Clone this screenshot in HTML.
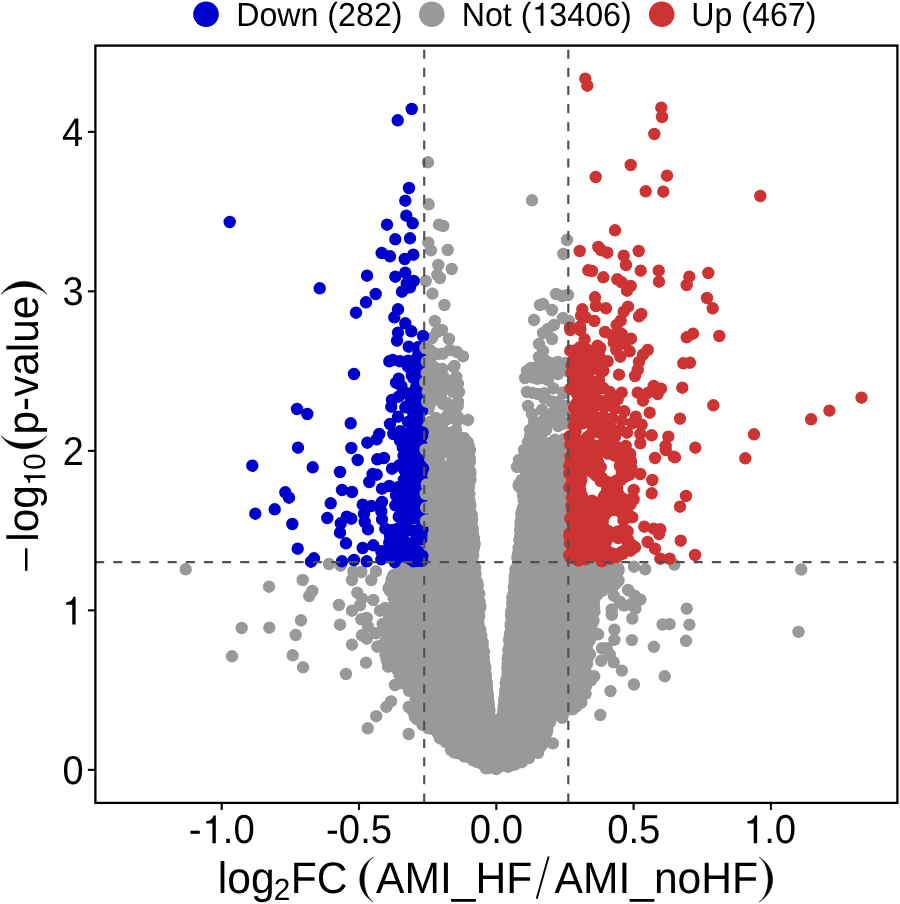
<!DOCTYPE html>
<html>
<head>
<meta charset="utf-8">
<title>Volcano plot</title>
<style>
html,body{margin:0;padding:0;background:#fff;}
body{width:900px;height:904px;overflow:hidden;}
svg{display:block;will-change:transform;}
text{font-family:"Liberation Sans",sans-serif;fill:#000;text-rendering:geometricPrecision;}
.tk{font-size:37.5px;}
.lg{font-size:31.3px;}
.ti{font-size:43px;}
</style>
</head>
<body>
<svg width="900" height="904" viewBox="0 0 900 904">
<rect x="0" y="0" width="900" height="904" fill="#fff"/>
<defs><clipPath id="pc"><rect x="95.4" y="45.6" width="802.0" height="757.3"/></clipPath></defs>
<g clip-path="url(#pc)">
<polygon points="424.2,470.0 424.2,474.0 424.2,478.0 424.2,482.0 424.2,486.0 424.2,490.0 424.2,494.0 424.2,498.0 424.2,502.0 424.2,506.0 424.2,510.0 424.2,514.0 424.2,518.0 424.2,522.0 424.2,526.0 424.2,530.0 424.2,534.0 424.2,538.0 424.2,542.0 424.2,546.0 424.2,550.0 424.2,554.0 424.2,558.0 424.2,562.0 405.0,566.0 401.3,570.0 396.0,574.0 391.6,578.0 390.2,582.0 388.7,586.0 389.2,590.0 391.5,594.0 393.8,598.0 394.8,602.0 394.4,606.0 394.0,610.0 393.0,614.0 390.1,618.0 387.2,622.0 385.7,626.0 385.7,630.0 385.7,634.0 384.0,638.0 381.8,642.0 379.6,646.0 382.0,650.0 386.0,654.0 388.6,658.0 389.7,662.0 391.9,666.0 394.4,670.0 399.5,674.0 403.5,678.0 401.5,682.0 401.5,686.0 407.5,690.0 412.3,694.0 413.4,698.0 412.8,702.0 410.2,706.0 410.2,710.0 412.8,714.0 415.9,718.0 419.5,722.0 424.6,726.0 431.0,730.0 435.0,734.0 440.1,738.0 446.4,742.0 450.0,746.0 452.7,750.0 459.0,754.0 469.0,758.0 476.3,762.0 483.0,766.0 496.0,768.0 509.7,766.0 521.1,762.0 529.5,758.0 535.2,754.0 536.2,750.0 540.5,746.0 545.0,742.0 544.7,738.0 544.4,734.0 545.6,730.0 547.4,726.0 550.7,722.0 567.7,718.0 570.0,714.0 572.3,710.0 576.4,706.0 580.6,702.0 583.2,698.0 585.5,694.0 587.0,690.0 588.4,686.0 590.0,682.0 591.6,678.0 588.5,674.0 585.2,670.0 586.1,666.0 587.5,662.0 588.5,658.0 589.2,654.0 589.8,650.0 589.1,646.0 587.2,642.0 591.9,638.0 596.5,634.0 594.5,630.0 592.5,626.0 593.2,622.0 594.7,618.0 594.7,614.0 594.3,610.0 593.8,606.0 593.4,602.0 596.4,598.0 599.7,594.0 607.0,590.0 615.0,586.0 617.5,582.0 619.8,578.0 619.0,574.0 618.2,570.0 617.2,566.0 568.3,562.0 568.3,558.0 568.3,554.0 568.3,550.0 568.3,546.0 568.3,542.0 568.3,538.0 568.3,534.0 568.3,530.0 568.3,526.0 568.3,522.0 568.3,518.0 568.3,514.0 568.3,510.0 568.3,506.0 568.3,502.0 568.3,498.0 568.3,494.0 568.3,490.0 568.3,486.0 568.3,482.0 568.3,478.0 568.3,474.0 568.3,470.0 520.4,470.0 520.0,474.0 518.1,478.0 516.2,482.0 513.7,486.0 516.2,490.0 518.2,494.0 519.6,498.0 519.0,502.0 518.5,506.0 517.9,510.0 517.3,514.0 516.7,518.0 516.5,522.0 516.3,526.0 516.2,530.0 515.9,534.0 515.7,538.0 515.4,542.0 514.9,546.0 514.4,550.0 513.7,554.0 512.8,558.0 511.9,562.0 511.5,566.0 511.1,570.0 510.7,574.0 510.3,578.0 509.9,582.0 509.5,586.0 509.1,590.0 508.7,594.0 508.3,598.0 507.9,602.0 507.5,606.0 507.3,610.0 507.1,614.0 506.9,618.0 506.6,622.0 506.3,626.0 505.9,630.0 505.4,634.0 504.9,638.0 504.4,642.0 503.9,646.0 503.4,650.0 503.1,654.0 502.8,658.0 502.5,662.0 502.3,666.0 502.0,670.0 501.6,674.0 501.1,678.0 500.6,682.0 500.1,686.0 499.6,690.0 499.2,694.0 498.7,698.0 498.2,702.0 497.7,706.0 497.3,710.0 497.0,714.0 496.6,719.0 495.6,719.0 495.3,714.0 495.1,710.0 494.8,706.0 494.4,702.0 494.1,698.0 493.7,694.0 493.3,690.0 492.8,686.0 492.3,682.0 491.8,678.0 491.3,674.0 490.8,670.0 490.3,666.0 489.8,662.0 489.3,658.0 488.9,654.0 488.4,650.0 487.7,646.0 487.0,642.0 486.3,638.0 485.6,634.0 484.9,630.0 484.5,626.0 484.4,622.0 484.3,618.0 484.3,614.0 484.3,610.0 484.3,606.0 483.9,602.0 483.5,598.0 483.1,594.0 482.7,590.0 482.3,586.0 481.7,582.0 480.9,578.0 480.1,574.0 479.4,570.0 478.6,566.0 477.8,562.0 478.0,558.0 478.2,554.0 478.3,550.0 478.5,546.0 478.7,542.0 478.6,538.0 478.1,534.0 477.6,530.0 477.1,526.0 476.6,522.0 476.1,518.0 475.6,514.0 475.1,510.0 474.6,506.0 474.1,502.0 473.9,498.0 474.1,494.0 474.3,490.0 474.5,486.0 474.7,482.0 474.7,478.0 474.6,474.0 474.5,470.0" fill="#999"/>
<path d="M446.1 439.9h0M452.8 440.6h0M428.7 439.1h0M460.7 439.9h0M457.6 439.0h0M529.8 440.0h0M564.0 439.1h0M530.2 440.1h0M565.5 439.8h0M467.6 442.0h0M443.7 442.0h0M434.8 441.5h0M434.2 441.9h0M437.3 441.0h0M461.1 442.1h0M533.6 441.7h0M557.0 442.4h0M565.3 441.8h0M561.2 442.3h0M446.9 444.2h0M426.2 443.5h0M459.7 443.8h0M432.3 444.1h0M528.7 444.0h0M548.5 444.6h0M549.0 443.8h0M547.8 443.1h0M530.2 444.4h0M468.6 446.0h0M446.9 447.0h0M458.8 446.1h0M462.8 445.5h0M447.5 446.9h0M450.3 445.9h0M559.2 446.6h0M563.3 446.5h0M560.2 446.0h0M550.4 445.9h0M447.3 448.0h0M440.6 447.7h0M448.8 448.2h0M452.1 447.9h0M426.0 447.5h0M559.7 448.6h0M538.1 448.7h0M554.7 447.2h0M528.5 447.0h0M468.9 450.0h0M440.2 449.1h0M431.9 450.1h0M432.3 449.5h0M456.8 449.9h0M528.3 450.0h0M544.5 449.4h0M531.9 450.8h0M548.1 449.4h0M551.9 450.6h0M468.7 452.0h0M431.9 452.4h0M455.3 452.1h0M434.7 453.0h0M460.7 452.0h0M528.1 452.0h0M540.2 452.3h0M529.6 451.6h0M566.5 452.8h0M539.6 452.7h0M436.1 453.0h0M464.4 453.1h0M461.8 454.9h0M450.5 453.3h0M464.0 454.9h0M527.0 454.0h0M535.2 454.3h0M544.6 453.4h0M531.1 454.3h0M538.9 454.0h0M433.8 455.7h0M469.4 456.6h0M440.1 455.4h0M455.3 456.7h0M466.9 455.7h0M536.1 456.5h0M529.9 455.3h0M564.1 455.4h0M557.8 456.2h0M469.4 458.0h0M464.1 458.2h0M468.0 458.8h0M430.8 458.1h0M429.4 457.1h0M428.0 458.7h0M526.1 458.0h0M558.7 457.8h0M549.9 457.4h0M529.4 457.5h0M563.2 458.1h0M469.6 460.0h0M462.3 459.0h0M455.2 459.2h0M429.9 460.8h0M426.5 459.5h0M525.4 460.0h0M535.8 460.5h0M529.9 460.8h0M541.6 460.9h0M564.0 459.6h0M536.3 460.0h0M469.9 462.0h0M469.4 461.6h0M451.8 461.9h0M439.0 461.1h0M466.3 462.9h0M468.8 461.2h0M554.5 462.3h0M536.2 462.1h0M538.3 461.5h0M528.7 461.6h0M467.6 463.8h0M438.7 463.7h0M439.1 464.7h0M465.4 463.6h0M535.5 463.0h0M535.4 463.1h0M548.6 463.1h0M528.2 464.3h0M431.7 466.0h0M461.0 465.2h0M468.0 465.3h0M460.1 467.0h0M524.8 466.0h0M564.3 465.6h0M563.2 465.3h0M564.0 465.1h0M538.4 466.8h0M456.2 467.4h0M444.5 467.3h0M457.4 468.3h0M436.2 467.1h0M561.4 467.9h0M541.7 467.7h0M535.7 467.0h0M552.5 467.8h0M469.4 470.0h0M430.4 469.5h0M462.6 469.8h0M443.1 470.2h0M435.4 469.0h0M448.9 470.0h0M534.7 470.0h0M545.2 469.5h0M542.3 470.1h0M563.8 470.8h0M470.2 472.0h0M448.2 472.8h0M432.0 472.5h0M465.2 471.6h0M456.4 472.7h0M441.7 472.4h0M566.1 472.1h0M531.9 471.5h0M533.7 472.1h0M557.2 471.1h0M470.4 474.0h0M432.3 474.5h0M426.6 475.0h0M461.8 474.3h0M437.0 474.8h0M468.7 473.3h0M543.5 474.8h0M566.5 473.8h0M559.2 473.9h0M531.2 473.7h0M452.3 475.8h0M430.1 475.6h0M436.1 476.5h0M424.9 475.4h0M444.9 475.0h0M535.8 476.1h0M535.3 476.2h0M534.3 476.4h0M558.5 476.6h0M566.6 476.1h0M442.3 477.6h0M429.7 478.6h0M430.1 478.5h0M449.8 478.9h0M459.7 478.9h0M545.1 477.7h0M546.2 477.0h0M542.3 477.9h0M536.0 477.8h0M557.9 478.4h0M470.5 480.0h0M424.9 479.6h0M452.3 480.8h0M462.9 480.0h0M470.2 479.9h0M463.2 479.8h0M459.0 481.0h0M438.8 479.3h0M453.3 480.1h0M521.8 480.0h0M540.1 480.7h0M548.4 480.5h0M563.0 480.5h0M544.1 480.5h0M551.0 480.3h0M550.5 479.8h0M550.5 480.3h0M564.9 480.6h0M440.8 481.5h0M457.3 482.7h0M449.7 481.3h0M463.0 482.0h0M446.2 481.1h0M448.2 482.5h0M444.1 481.7h0M553.1 481.8h0M553.0 482.2h0M530.1 481.4h0M562.4 481.5h0M523.8 482.7h0M545.1 481.7h0M544.5 482.5h0M437.1 484.2h0M435.4 484.1h0M432.6 484.6h0M464.5 483.7h0M434.9 484.9h0M457.1 484.7h0M426.1 484.8h0M519.3 484.0h0M557.3 483.4h0M549.5 483.3h0M566.5 483.9h0M563.6 484.5h0M548.6 483.5h0M544.7 483.3h0M525.7 484.4h0M536.6 484.5h0M429.6 485.8h0M447.3 485.2h0M433.3 485.1h0M452.1 486.8h0M434.6 485.1h0M456.9 486.6h0M468.9 486.2h0M440.4 486.7h0M518.7 486.0h0M542.5 485.8h0M526.1 485.5h0M558.8 485.9h0M546.8 485.4h0M553.5 485.7h0M547.4 486.8h0M567.5 485.1h0M557.7 486.7h0M443.0 488.8h0M459.4 487.3h0M466.5 487.0h0M431.3 488.3h0M427.3 487.8h0M430.6 487.9h0M463.1 488.8h0M532.3 487.2h0M523.4 487.1h0M550.1 488.5h0M552.5 488.7h0M551.3 487.8h0M549.8 488.9h0M550.3 487.5h0M521.9 488.9h0M448.5 489.1h0M440.8 489.8h0M433.8 490.8h0M444.0 490.3h0M457.2 490.5h0M457.6 490.5h0M436.2 491.0h0M522.7 489.2h0M558.9 489.9h0M537.8 491.0h0M522.1 490.1h0M541.3 489.3h0M539.0 490.4h0M562.2 489.0h0M426.3 491.8h0M458.0 491.6h0M430.6 492.6h0M461.4 492.7h0M438.5 491.8h0M435.9 492.1h0M439.7 491.7h0M460.4 492.9h0M567.2 492.4h0M560.1 492.4h0M546.2 492.8h0M560.0 491.6h0M528.5 491.7h0M545.5 491.2h0M537.3 492.1h0M523.2 492.6h0M469.3 494.0h0M439.5 494.5h0M447.4 494.1h0M431.5 494.8h0M439.5 493.7h0M427.8 495.0h0M446.5 494.8h0M466.8 494.9h0M528.3 494.0h0M548.4 495.0h0M557.9 494.4h0M556.2 493.7h0M565.2 494.3h0M540.6 493.9h0M566.9 494.1h0M465.8 495.4h0M443.3 496.5h0M427.0 495.2h0M449.4 495.5h0M429.5 495.5h0M453.3 496.1h0M428.3 495.1h0M523.2 496.0h0M524.2 495.7h0M561.0 496.4h0M535.9 496.8h0M549.9 496.7h0M563.0 495.9h0M553.3 496.1h0M565.3 496.6h0M433.8 498.5h0M459.5 498.0h0M446.7 497.8h0M464.6 498.6h0M451.1 497.1h0M463.2 497.9h0M433.3 497.6h0M523.8 498.0h0M562.8 498.5h0M566.5 498.1h0M548.9 498.1h0M546.8 498.1h0M559.8 498.9h0M541.6 498.3h0M537.2 497.6h0M432.1 500.3h0M469.6 500.5h0M450.2 499.7h0M442.8 500.9h0M465.1 500.3h0M465.2 500.9h0M462.9 499.8h0M523.8 500.0h0M544.7 499.7h0M543.6 499.2h0M539.1 499.8h0M524.1 499.3h0M534.9 500.7h0M549.5 499.6h0M567.7 499.5h0M459.9 502.0h0M457.1 502.0h0M468.8 502.4h0M428.8 501.3h0M468.5 501.5h0M425.9 501.5h0M446.5 502.9h0M550.4 503.0h0M547.6 502.1h0M538.5 502.9h0M566.4 501.2h0M547.8 501.8h0M553.1 501.2h0M534.9 501.6h0M544.5 502.6h0M442.5 504.3h0M438.1 504.0h0M466.0 503.2h0M463.6 503.2h0M442.3 504.8h0M433.9 504.0h0M443.7 504.8h0M469.9 503.6h0M557.0 503.7h0M544.6 503.0h0M567.3 504.3h0M564.5 504.9h0M534.8 504.1h0M542.6 504.5h0M560.7 503.5h0M470.3 506.0h0M433.7 506.1h0M452.1 506.9h0M449.1 506.2h0M431.5 505.8h0M437.5 506.4h0M436.9 505.4h0M441.6 505.9h0M440.2 506.2h0M525.1 505.7h0M553.8 506.3h0M559.3 506.8h0M536.8 506.0h0M537.4 505.3h0M528.8 505.5h0M526.5 506.1h0M433.9 508.1h0M465.5 507.8h0M424.9 507.0h0M438.8 508.2h0M428.6 507.4h0M456.1 509.0h0M440.4 508.2h0M448.6 507.0h0M522.9 508.0h0M553.3 507.1h0M525.7 508.4h0M526.9 507.6h0M534.5 507.1h0M523.6 507.3h0M540.4 508.9h0M551.3 507.5h0M468.7 509.7h0M461.9 510.3h0M463.8 510.2h0M465.0 509.8h0M456.2 510.2h0M449.2 510.1h0M449.5 509.8h0M466.3 510.3h0M531.8 509.9h0M547.0 509.5h0M534.3 510.1h0M543.6 509.8h0M526.7 509.7h0M551.9 510.1h0M546.9 510.7h0M555.1 510.4h0M467.3 511.3h0M465.7 511.4h0M463.9 512.7h0M440.3 512.8h0M432.1 512.7h0M442.5 511.9h0M430.2 512.2h0M437.3 512.3h0M521.7 512.0h0M564.1 512.3h0M539.1 512.1h0M562.4 511.9h0M557.6 512.2h0M541.1 512.9h0M540.5 512.2h0M524.1 511.9h0M471.3 514.0h0M429.9 513.3h0M448.5 513.7h0M437.4 515.0h0M467.3 514.3h0M462.3 514.6h0M436.2 514.6h0M435.9 514.1h0M441.5 513.3h0M521.4 514.0h0M537.4 514.3h0M567.6 514.5h0M523.9 513.9h0M538.8 513.6h0M559.3 513.9h0M553.8 514.3h0M545.4 513.1h0M471.8 516.0h0M447.7 515.7h0M458.2 517.0h0M425.7 516.8h0M442.8 516.7h0M432.9 516.4h0M429.4 515.7h0M470.4 516.3h0M557.2 516.4h0M530.1 515.9h0M546.4 516.1h0M564.4 516.7h0M528.0 515.8h0M526.1 515.1h0M524.5 515.4h0M432.1 518.9h0M463.8 518.9h0M425.6 517.8h0M454.7 518.5h0M467.9 518.1h0M443.2 517.0h0M462.8 519.0h0M467.7 518.3h0M565.9 517.4h0M548.3 518.0h0M540.9 518.6h0M564.8 518.4h0M553.7 518.4h0M551.5 518.1h0M532.4 518.6h0M472.0 520.0h0M455.2 520.0h0M471.3 519.5h0M425.3 520.9h0M439.6 519.6h0M444.5 520.2h0M471.6 520.4h0M439.9 520.1h0M446.1 520.0h0M521.2 520.0h0M530.0 520.6h0M537.6 519.3h0M547.3 520.7h0M557.4 520.2h0M555.1 519.7h0M527.3 519.5h0M537.1 519.6h0M542.7 519.3h0M471.7 522.0h0M450.4 521.4h0M445.2 522.7h0M452.3 522.1h0M443.4 521.4h0M454.6 521.2h0M462.3 521.1h0M460.4 521.8h0M520.7 522.0h0M524.0 521.5h0M538.5 521.6h0M551.8 523.0h0M537.4 522.7h0M531.1 522.4h0M536.9 522.1h0M524.7 522.7h0M530.4 521.9h0M461.0 523.5h0M427.5 524.7h0M439.9 524.6h0M470.7 524.3h0M429.7 524.7h0M455.2 523.5h0M434.7 524.0h0M430.5 524.8h0M520.6 524.0h0M526.8 524.4h0M532.5 523.0h0M526.1 523.4h0M556.6 523.8h0M543.3 524.2h0M533.1 524.3h0M552.2 524.8h0M445.1 525.5h0M429.4 526.7h0M431.0 526.1h0M446.6 525.1h0M435.1 526.6h0M450.7 526.8h0M468.6 525.2h0M520.6 526.0h0M565.8 526.2h0M529.4 526.0h0M545.1 525.4h0M537.4 526.8h0M566.9 526.6h0M523.4 526.8h0M542.1 526.7h0M528.7 525.3h0M472.5 528.0h0M472.8 528.7h0M444.0 529.0h0M463.4 528.7h0M456.1 527.8h0M468.7 527.9h0M470.1 528.1h0M468.9 528.0h0M445.4 528.2h0M533.5 528.7h0M557.7 528.6h0M540.0 529.0h0M557.9 528.2h0M525.7 528.1h0M521.0 528.8h0M536.3 527.7h0M455.7 530.7h0M446.5 530.0h0M464.3 529.0h0M432.6 529.7h0M435.2 530.8h0M431.9 529.2h0M440.2 530.0h0M464.8 531.0h0M520.2 530.0h0M550.2 530.6h0M532.8 530.9h0M546.4 530.1h0M549.6 529.1h0M528.3 530.9h0M532.9 529.2h0M533.6 530.5h0M532.7 529.4h0M467.6 533.0h0M465.1 531.2h0M440.2 532.9h0M466.9 531.3h0M446.4 531.7h0M461.4 531.1h0M440.2 532.5h0M468.2 531.1h0M566.5 531.4h0M525.6 531.3h0M548.1 531.2h0M532.8 531.4h0M522.7 532.9h0M536.1 532.9h0M554.6 531.4h0M564.6 531.0h0M472.9 534.0h0M425.2 534.5h0M428.9 534.6h0M426.4 534.1h0M435.0 533.6h0M448.9 533.7h0M444.0 534.3h0M434.3 533.4h0M458.5 533.6h0M520.9 533.2h0M549.9 534.3h0M565.5 533.9h0M553.8 533.7h0M523.5 533.8h0M553.5 534.6h0M565.5 534.7h0M546.9 534.1h0M467.2 535.9h0M448.1 536.7h0M458.2 536.0h0M452.6 536.6h0M454.8 535.5h0M440.1 536.2h0M427.0 535.9h0M468.9 535.5h0M549.8 535.8h0M540.8 536.3h0M536.9 536.6h0M520.2 536.5h0M555.4 535.6h0M520.5 535.7h0M548.1 536.6h0M473.6 538.0h0M474.0 538.3h0M431.1 538.4h0M472.5 538.2h0M436.3 538.9h0M459.6 537.4h0M462.9 538.0h0M453.3 537.7h0M439.3 537.8h0M529.3 538.9h0M548.9 538.2h0M550.0 537.5h0M538.7 537.4h0M527.0 539.0h0M555.5 538.8h0M519.8 538.4h0M534.5 538.0h0M473.6 540.0h0M468.5 540.0h0M440.6 540.2h0M453.9 539.6h0M452.2 539.6h0M425.3 539.6h0M429.0 540.0h0M449.8 540.7h0M462.2 540.5h0M519.4 540.0h0M524.5 540.0h0M544.2 539.3h0M564.1 541.0h0M522.9 539.0h0M522.5 540.5h0M560.7 539.1h0M520.0 540.1h0M535.6 539.0h0M473.8 542.0h0M452.2 541.5h0M436.4 541.4h0M469.1 541.5h0M452.5 541.9h0M441.3 541.8h0M425.5 541.4h0M456.7 542.5h0M435.6 541.4h0M526.5 542.7h0M526.6 541.1h0M533.2 541.7h0M547.9 541.9h0M557.8 542.3h0M525.2 541.4h0M555.5 541.2h0M474.6 544.0h0M437.3 543.8h0M437.1 543.1h0M437.3 543.4h0M442.2 543.9h0M468.3 544.3h0M455.4 544.7h0M444.0 543.9h0M436.9 544.7h0M522.7 544.6h0M562.2 544.1h0M563.9 544.9h0M555.9 543.7h0M541.3 543.7h0M538.4 543.9h0M520.0 543.3h0M527.3 544.1h0M474.3 546.0h0M456.0 545.3h0M428.7 546.2h0M436.4 546.3h0M433.2 546.7h0M440.1 545.9h0M452.1 546.8h0M470.4 546.7h0M458.8 545.1h0M528.3 545.7h0M566.0 546.0h0M561.5 546.7h0M557.1 546.3h0M551.5 545.7h0M524.8 546.9h0M520.5 545.5h0M548.9 546.9h0M444.7 547.7h0M427.2 548.9h0M459.4 547.0h0M429.5 547.3h0M443.0 548.8h0M431.7 547.5h0M440.2 548.0h0M469.5 548.1h0M518.6 548.0h0M547.2 547.9h0M543.8 547.7h0M539.9 547.1h0M528.8 548.5h0M525.2 547.4h0M526.7 547.7h0M521.1 547.7h0M456.7 549.4h0M441.7 550.2h0M466.3 550.3h0M473.6 549.0h0M440.4 550.0h0M426.5 549.1h0M442.9 550.1h0M431.4 549.1h0M548.3 550.8h0M546.7 550.0h0M538.9 549.1h0M521.5 550.3h0M560.8 549.0h0M527.3 549.7h0M533.9 550.7h0M439.3 552.3h0M427.1 551.9h0M470.6 551.4h0M442.4 552.3h0M452.7 552.2h0M454.9 552.4h0M440.7 551.7h0M537.8 551.9h0M559.5 552.9h0M530.2 552.5h0M530.5 552.5h0M520.1 552.0h0M546.5 552.4h0M563.7 552.6h0M546.1 552.0h0M432.9 554.2h0M427.3 554.5h0M465.3 553.9h0M458.7 554.3h0M439.7 553.2h0M462.2 553.7h0M432.7 553.9h0M465.9 554.9h0M518.1 554.0h0M518.2 553.5h0M561.6 553.1h0M550.5 554.0h0M567.2 555.0h0M523.9 553.5h0M567.4 553.7h0M526.8 554.8h0M548.6 553.6h0M433.1 556.2h0M471.9 556.2h0M463.6 555.6h0M432.3 555.0h0M473.2 555.2h0M443.5 556.3h0M461.0 556.2h0M446.4 556.6h0M517.9 556.0h0M522.2 555.8h0M539.7 555.4h0M540.0 556.7h0M519.1 555.4h0M566.6 555.9h0M537.0 556.8h0M556.5 555.3h0M547.5 555.4h0M470.4 557.5h0M466.6 557.9h0M468.5 557.2h0M427.4 557.9h0M470.6 557.9h0M449.7 557.3h0M451.4 557.9h0M468.5 558.5h0M517.4 558.0h0M548.0 557.4h0M558.2 557.4h0M540.0 558.8h0M522.1 557.2h0M519.5 557.3h0M535.9 557.6h0M531.1 557.0h0M541.7 557.9h0M461.7 559.3h0M448.8 559.9h0M447.3 560.1h0M451.1 559.6h0M465.2 560.9h0M452.2 560.3h0M460.3 559.6h0M453.8 559.9h0M528.8 559.4h0M546.9 559.5h0M556.5 560.8h0M555.4 559.7h0M564.8 559.7h0M535.0 560.2h0M550.3 559.8h0M556.8 560.7h0M531.2 559.4h0M443.8 562.8h0M471.8 562.2h0M463.0 562.7h0M435.6 561.1h0M454.7 561.8h0M459.6 561.6h0M446.0 562.6h0M429.3 561.8h0M555.0 561.3h0M538.6 562.1h0M549.0 562.4h0M566.4 562.9h0M526.7 561.3h0M566.2 561.3h0M566.2 561.2h0M546.3 561.3h0M427.1 563.3h0M429.9 563.3h0M421.4 564.0h0M438.9 564.8h0M411.4 564.1h0M444.2 563.3h0M430.1 563.3h0M466.9 563.7h0M409.7 564.0h0M441.7 564.8h0M454.8 563.4h0M599.0 563.4h0M596.8 564.6h0M594.1 563.2h0M556.4 563.2h0M588.8 565.0h0M568.8 564.3h0M583.5 563.3h0M553.5 563.7h0M592.0 563.8h0M553.1 564.1h0M536.6 563.1h0M539.9 563.0h0M583.8 563.9h0M578.4 564.1h0M521.2 564.6h0M599.0 563.0h0M559.4 564.6h0M467.9 566.6h0M445.4 565.1h0M436.2 566.4h0M441.0 566.2h0M428.8 566.7h0M421.5 566.3h0M434.9 565.3h0M405.5 565.3h0M424.5 565.9h0M406.1 565.1h0M460.3 567.0h0M570.7 566.3h0M612.3 566.3h0M571.4 565.8h0M609.0 566.0h0M564.5 566.5h0M560.4 565.1h0M576.2 566.7h0M553.4 565.2h0M526.3 566.8h0M526.9 566.3h0M524.5 566.0h0M608.9 565.5h0M547.0 566.2h0M574.3 566.1h0M555.7 565.1h0M576.5 565.6h0M579.1 565.9h0M475.2 568.0h0M437.5 568.1h0M422.5 567.3h0M453.9 567.9h0M445.2 567.4h0M439.8 568.3h0M457.7 568.3h0M432.9 568.4h0M446.0 568.0h0M448.4 567.6h0M407.7 567.3h0M473.0 568.8h0M571.1 567.6h0M526.3 569.0h0M618.4 568.7h0M561.3 568.5h0M609.2 568.1h0M528.2 569.0h0M570.8 568.5h0M579.5 567.1h0M563.0 567.0h0M542.7 568.9h0M586.6 568.1h0M526.9 568.4h0M577.8 568.3h0M586.3 568.9h0M561.5 568.2h0M570.0 568.2h0M474.4 570.0h0M403.7 570.1h0M423.4 570.6h0M412.6 569.3h0M465.3 569.2h0M426.9 570.4h0M442.6 569.5h0M410.6 570.2h0M419.1 570.7h0M420.4 570.9h0M402.2 570.2h0M421.7 569.9h0M433.2 570.6h0M516.0 570.0h0M600.6 569.9h0M603.3 569.7h0M552.0 570.8h0M618.0 570.6h0M538.9 570.9h0M553.1 570.7h0M548.5 569.4h0M541.9 570.4h0M616.8 570.0h0M526.2 570.4h0M608.4 570.6h0M515.3 569.6h0M595.7 570.4h0M618.6 570.8h0M598.0 570.4h0M554.6 569.1h0M464.6 572.3h0M466.9 572.4h0M431.8 572.0h0M405.5 571.5h0M442.6 571.4h0M425.8 572.3h0M444.2 572.8h0M431.6 572.1h0M430.7 572.5h0M446.6 572.9h0M408.9 571.3h0M420.6 572.2h0M447.6 571.4h0M515.7 572.0h0M526.0 572.6h0M530.9 572.4h0M596.6 572.9h0M609.2 571.0h0M584.0 572.8h0M595.4 571.9h0M593.3 571.6h0M598.8 571.8h0M616.4 571.1h0M575.8 571.3h0M595.0 572.9h0M566.3 572.7h0M539.2 571.1h0M598.8 571.8h0M523.7 572.3h0M609.1 571.2h0M475.4 574.0h0M398.9 573.6h0M420.1 574.1h0M445.4 574.7h0M464.5 573.3h0M446.0 574.8h0M415.4 574.2h0M475.2 574.3h0M452.0 573.6h0M475.5 574.7h0M421.3 573.6h0M395.6 574.0h0M465.9 574.6h0M407.1 573.5h0M515.7 574.0h0M572.8 574.8h0M604.5 574.2h0M547.9 574.8h0M536.9 573.1h0M537.4 574.6h0M588.3 573.6h0M537.8 574.3h0M568.5 574.6h0M561.6 573.2h0M522.1 573.5h0M569.7 574.4h0M573.2 573.0h0M614.9 573.9h0M571.5 573.4h0M540.3 573.4h0M578.4 574.8h0M542.5 573.7h0M475.4 576.0h0M474.6 575.1h0M399.0 575.9h0M418.1 575.5h0M465.6 575.4h0M408.9 576.8h0M444.9 576.4h0M448.7 575.1h0M474.7 575.1h0M411.6 576.0h0M462.9 576.9h0M393.3 575.3h0M393.9 575.3h0M469.3 575.2h0M514.9 576.0h0M541.9 576.1h0M606.9 576.1h0M570.9 575.6h0M533.5 576.0h0M556.2 576.8h0M536.5 575.1h0M520.0 575.6h0M537.6 575.8h0M607.6 576.5h0M577.2 576.7h0M607.4 575.1h0M587.4 575.3h0M557.9 575.8h0M543.2 575.1h0M535.0 576.4h0M615.7 576.8h0M516.9 576.1h0M398.4 578.0h0M395.4 578.7h0M467.3 577.0h0M459.8 578.7h0M394.3 578.2h0M431.7 577.4h0M461.3 578.1h0M460.8 578.9h0M474.3 578.3h0M466.0 577.1h0M419.9 577.9h0M434.9 577.7h0M461.2 578.2h0M463.7 577.9h0M554.4 578.2h0M525.6 578.4h0M578.1 578.6h0M522.3 577.8h0M576.6 577.1h0M595.4 578.8h0M580.8 578.5h0M614.7 577.9h0M568.7 578.8h0M586.3 577.6h0M577.0 578.5h0M604.1 577.3h0M532.1 578.4h0M590.4 578.5h0M566.3 577.8h0M616.4 577.5h0M544.8 577.0h0M454.7 579.3h0M422.5 580.3h0M457.9 579.9h0M460.6 579.9h0M448.0 580.7h0M439.2 580.1h0M471.5 579.1h0M391.7 579.1h0M417.2 580.1h0M444.0 580.4h0M391.6 580.7h0M410.8 580.9h0M420.3 580.7h0M452.3 579.0h0M555.8 579.3h0M514.6 580.1h0M579.5 579.3h0M602.5 579.4h0M613.0 580.3h0M616.6 579.9h0M602.6 580.2h0M589.5 579.8h0M568.1 579.5h0M549.7 580.9h0M522.4 580.7h0M593.2 579.3h0M559.5 580.7h0M567.8 580.0h0M567.3 579.3h0M618.6 580.5h0M544.2 579.7h0M421.1 582.1h0M467.7 582.4h0M409.3 581.0h0M447.5 581.5h0M466.8 581.3h0M477.4 582.6h0M411.7 581.0h0M461.9 581.2h0M402.8 581.8h0M404.6 581.2h0M437.9 582.3h0M458.7 581.1h0M393.9 581.9h0M454.9 581.4h0M611.7 581.8h0M522.5 582.6h0M560.0 581.7h0M558.5 582.4h0M589.9 581.9h0M541.7 581.3h0M519.4 582.9h0M614.9 581.1h0M575.8 582.9h0M574.0 582.9h0M529.1 582.4h0M601.8 581.2h0M535.2 582.9h0M538.3 582.2h0M609.1 582.4h0M594.6 581.6h0M477.1 584.0h0M451.6 583.1h0M395.4 583.7h0M402.6 584.8h0M428.3 584.2h0M426.8 584.7h0M471.4 584.8h0M395.9 584.2h0M458.2 584.8h0M438.4 583.9h0M404.4 583.0h0M390.8 583.6h0M453.1 583.8h0M437.1 583.5h0M475.7 584.8h0M514.5 584.0h0M538.7 584.5h0M546.0 584.4h0M516.4 584.4h0M579.6 583.6h0M593.4 584.7h0M607.3 584.4h0M559.1 584.2h0M592.5 583.6h0M605.0 584.6h0M585.5 584.5h0M519.0 584.6h0M559.9 584.4h0M581.0 583.8h0M589.8 584.7h0M616.5 583.0h0M608.3 584.6h0M575.3 584.5h0M477.7 586.0h0M460.9 586.0h0M443.3 586.6h0M402.9 586.1h0M453.3 586.2h0M476.2 585.5h0M449.3 586.6h0M423.2 586.9h0M425.2 585.3h0M403.3 585.8h0M477.1 586.8h0M469.2 586.3h0M433.4 586.3h0M442.6 586.9h0M423.4 585.8h0M578.3 585.5h0M541.5 585.5h0M514.4 585.2h0M582.2 586.6h0M524.4 586.9h0M561.2 586.6h0M517.7 585.2h0M596.8 585.2h0M517.3 586.3h0M518.0 585.8h0M596.9 585.2h0M599.7 586.8h0M613.2 586.2h0M597.5 585.3h0M572.2 586.8h0M602.0 585.3h0M598.3 585.8h0M465.3 588.9h0M461.0 587.1h0M388.6 588.2h0M396.3 587.2h0M466.7 587.1h0M412.9 587.6h0M472.3 588.9h0M458.8 587.9h0M397.9 588.9h0M407.6 588.3h0M458.3 588.0h0M468.0 588.9h0M420.6 588.4h0M395.8 587.9h0M448.6 587.5h0M514.0 588.0h0M527.2 587.4h0M573.8 587.5h0M596.0 587.7h0M525.8 588.3h0M555.4 588.2h0M524.3 587.1h0M542.4 588.0h0M532.9 587.4h0M595.7 587.5h0M547.5 588.7h0M611.6 588.5h0M527.1 588.5h0M522.2 588.6h0M540.5 587.4h0M555.3 587.3h0M402.9 589.5h0M464.0 589.7h0M455.8 590.1h0M401.9 589.4h0M471.8 590.8h0M442.2 589.0h0M389.9 590.9h0M460.5 590.4h0M411.8 590.8h0M395.0 590.4h0M450.5 589.7h0M461.8 589.4h0M475.3 590.9h0M419.0 589.7h0M602.6 590.5h0M539.2 589.7h0M520.2 590.6h0M593.1 589.4h0M557.8 589.7h0M539.9 589.1h0M569.4 590.9h0M529.3 590.5h0M586.3 590.1h0M593.4 589.8h0M571.9 589.1h0M527.6 590.2h0M592.9 589.9h0M601.5 590.0h0M551.9 590.6h0M417.1 592.1h0M392.8 591.6h0M460.0 591.5h0M447.5 591.6h0M401.5 591.7h0M418.2 591.6h0M417.3 592.8h0M440.9 592.0h0M413.1 591.6h0M461.0 591.7h0M402.9 591.8h0M449.7 592.9h0M464.0 592.0h0M404.6 592.8h0M393.1 592.2h0M550.8 591.2h0M569.2 592.4h0M524.7 591.0h0M534.9 591.7h0M552.5 592.4h0M560.3 591.1h0M514.6 591.9h0M528.3 592.6h0M580.9 592.6h0M569.1 591.4h0M585.1 591.6h0M527.9 591.1h0M548.5 592.9h0M575.3 592.3h0M547.5 591.9h0M479.3 594.0h0M433.7 593.4h0M435.9 593.2h0M461.1 593.8h0M448.5 594.6h0M411.5 594.9h0M477.9 594.0h0M397.1 594.3h0M450.7 593.4h0M459.5 593.6h0M413.7 593.2h0M445.4 594.5h0M452.1 593.6h0M417.0 593.1h0M406.2 593.5h0M513.6 594.0h0M556.9 593.0h0M546.2 593.2h0M526.9 594.4h0M519.1 594.6h0M572.4 594.3h0M559.3 594.4h0M532.0 593.8h0M514.3 593.0h0M549.2 594.2h0M597.5 594.7h0M517.4 594.8h0M547.5 593.8h0M526.7 593.2h0M552.4 594.1h0M587.5 594.3h0M417.4 595.5h0M476.9 595.3h0M447.2 595.7h0M455.2 596.0h0M411.0 596.7h0M438.8 595.0h0M411.0 595.3h0M420.0 595.3h0M448.3 596.2h0M425.8 595.5h0M447.4 595.8h0M459.0 596.7h0M454.8 596.9h0M418.2 596.7h0M536.7 596.7h0M554.2 595.3h0M562.6 595.3h0M517.8 595.5h0M579.4 595.4h0M587.1 595.1h0M541.6 595.0h0M571.9 596.2h0M580.2 596.6h0M590.9 595.8h0M544.2 596.2h0M554.5 595.4h0M549.9 595.8h0M589.3 595.2h0M454.0 597.2h0M468.6 597.1h0M445.6 597.2h0M412.9 598.4h0M426.2 598.4h0M412.1 597.2h0M423.0 598.0h0M463.1 598.7h0M425.8 598.9h0M441.7 597.4h0M436.6 598.4h0M459.0 597.2h0M477.1 598.1h0M393.5 597.6h0M512.3 598.0h0M523.1 598.4h0M562.4 597.5h0M581.1 597.1h0M528.7 598.5h0M563.4 597.4h0M545.6 598.7h0M527.0 597.1h0M554.6 597.4h0M570.3 597.5h0M528.4 598.2h0M593.8 598.1h0M594.4 599.0h0M576.1 598.1h0M442.7 599.9h0M441.8 600.2h0M442.1 600.9h0M441.6 599.2h0M469.8 600.5h0M425.6 599.9h0M442.3 599.8h0M451.5 601.0h0M398.7 600.8h0M478.8 600.7h0M433.8 600.3h0M434.1 599.7h0M407.6 599.4h0M435.0 599.6h0M513.0 600.0h0M519.5 599.5h0M547.5 599.4h0M582.0 600.0h0M517.2 599.4h0M570.4 599.6h0M537.1 599.4h0M513.1 600.5h0M539.3 599.5h0M520.9 600.0h0M573.8 600.9h0M590.0 599.0h0M553.5 600.0h0M558.0 599.9h0M479.5 602.0h0M438.5 601.0h0M447.9 602.9h0M450.1 601.4h0M466.0 601.1h0M466.8 601.3h0M466.3 601.4h0M406.6 601.5h0M437.3 602.4h0M438.0 601.1h0M475.4 602.7h0M425.5 601.1h0M429.2 602.9h0M475.9 601.3h0M512.8 602.0h0M588.4 602.7h0M578.1 602.2h0M578.4 601.5h0M586.3 601.4h0M522.0 602.5h0M593.5 602.5h0M563.2 601.2h0M555.4 601.4h0M556.4 601.8h0M523.4 602.1h0M577.1 602.4h0M523.4 602.9h0M588.6 601.7h0M479.2 604.0h0M401.2 603.8h0M394.6 603.4h0M424.5 604.7h0M447.8 603.2h0M462.5 604.5h0M420.3 603.3h0M457.2 604.9h0M412.7 603.7h0M422.5 604.9h0M398.2 603.0h0M409.5 603.9h0M477.2 603.1h0M462.6 604.1h0M587.0 603.0h0M593.4 603.8h0M534.0 604.8h0M552.9 603.8h0M537.0 603.8h0M532.2 604.0h0M547.8 603.5h0M512.2 603.3h0M576.3 604.4h0M588.1 603.3h0M588.4 604.8h0M540.7 604.9h0M593.1 604.7h0M480.3 606.0h0M405.6 606.4h0M476.8 605.4h0M405.5 606.8h0M469.7 605.3h0M396.5 605.6h0M417.3 605.0h0M406.2 606.7h0M399.1 605.9h0M455.7 606.4h0M420.4 605.3h0M430.5 605.7h0M432.4 605.6h0M434.8 606.9h0M394.3 605.5h0M593.8 605.0h0M576.9 605.5h0M570.7 606.6h0M572.6 606.9h0M530.0 606.7h0M562.9 605.4h0M529.6 605.2h0M586.5 605.7h0M540.3 605.2h0M578.3 606.1h0M528.5 606.6h0M556.1 606.6h0M570.2 605.9h0M541.1 606.8h0M473.9 608.2h0M480.2 607.9h0M398.9 608.3h0M415.3 607.8h0M425.4 607.7h0M438.3 608.2h0M399.5 608.8h0M423.6 608.5h0M423.5 607.2h0M422.0 607.5h0M419.8 608.3h0M452.4 607.4h0M454.7 608.2h0M407.5 608.2h0M512.5 608.0h0M589.7 608.4h0M558.0 608.1h0M532.1 607.9h0M516.0 608.0h0M592.2 608.0h0M573.5 608.8h0M558.6 607.3h0M594.0 608.0h0M547.1 607.1h0M571.8 608.7h0M555.8 607.4h0M570.3 607.4h0M540.4 607.5h0M413.6 609.4h0M437.7 610.9h0M450.3 610.7h0M401.1 609.0h0M440.6 609.5h0M422.2 610.5h0M401.4 610.8h0M429.1 610.2h0M396.9 609.1h0M451.8 609.1h0M448.7 609.6h0M419.3 610.9h0M468.4 609.6h0M426.7 609.6h0M546.8 609.4h0M564.1 609.5h0M587.8 610.9h0M592.4 609.4h0M536.1 610.7h0M550.3 610.1h0M571.1 609.4h0M550.1 609.2h0M513.9 610.9h0M571.8 610.2h0M528.5 609.6h0M588.3 611.0h0M565.1 610.8h0M473.5 611.0h0M416.4 612.0h0M474.9 611.7h0M402.6 612.4h0M451.5 611.2h0M453.2 611.8h0M429.8 612.9h0M465.7 613.0h0M454.3 611.8h0M425.6 611.3h0M398.9 612.0h0M406.9 612.2h0M411.5 612.0h0M471.4 611.9h0M511.1 612.0h0M547.7 612.3h0M559.8 611.9h0M541.7 611.4h0M594.5 611.4h0M550.0 612.8h0M579.8 613.0h0M563.6 611.6h0M584.2 611.1h0M590.4 611.9h0M568.5 612.8h0M554.8 612.6h0M581.7 612.0h0M587.8 611.5h0M394.8 613.9h0M412.0 613.1h0M406.7 614.2h0M425.6 614.6h0M411.6 614.2h0M415.8 613.6h0M405.4 614.5h0M417.0 614.3h0M452.8 614.1h0M450.5 614.4h0M400.8 614.5h0M437.9 614.6h0M401.9 613.1h0M449.2 613.6h0M558.3 613.4h0M592.1 613.5h0M588.7 615.0h0M539.6 614.6h0M586.7 613.1h0M593.0 613.8h0M539.7 614.6h0M525.2 613.1h0M592.8 613.0h0M564.9 614.1h0M546.6 614.7h0M580.0 613.0h0M563.3 614.7h0M543.9 613.2h0M479.1 616.0h0M410.0 616.2h0M464.9 615.9h0M439.3 615.4h0M391.5 615.9h0M413.2 616.3h0M399.7 615.9h0M437.0 616.6h0M395.4 616.8h0M404.5 616.8h0M463.4 616.8h0M473.6 615.2h0M423.1 616.2h0M420.4 616.3h0M468.7 615.4h0M511.8 616.0h0M574.2 615.6h0M560.4 615.1h0M558.8 616.6h0M548.6 615.7h0M576.2 616.1h0M551.2 615.3h0M568.5 616.7h0M511.0 615.6h0M566.2 615.3h0M583.7 615.3h0M531.7 615.9h0M522.7 616.8h0M553.9 615.8h0M562.7 616.5h0M414.8 617.3h0M449.6 617.8h0M476.1 617.5h0M460.5 617.9h0M403.4 617.8h0M446.4 618.3h0M420.9 617.5h0M403.5 618.2h0M451.2 618.8h0M433.8 617.7h0M462.0 618.3h0M455.3 617.1h0M464.2 617.8h0M450.3 617.1h0M389.3 617.1h0M516.1 619.0h0M547.3 618.4h0M566.9 617.7h0M580.7 618.9h0M545.6 617.7h0M546.7 618.7h0M553.4 617.2h0M511.8 618.3h0M523.4 618.5h0M561.6 617.4h0M516.7 618.3h0M524.5 619.0h0M554.4 617.7h0M429.6 619.1h0M402.6 621.0h0M445.5 619.0h0M401.5 619.2h0M411.5 620.3h0M473.6 620.1h0M434.0 620.8h0M399.9 620.8h0M447.3 619.5h0M458.8 619.3h0M442.6 619.9h0M397.7 620.9h0M405.9 619.7h0M446.7 619.5h0M396.6 619.6h0M522.5 620.7h0M593.5 621.0h0M535.9 619.2h0M574.9 619.9h0M564.5 619.2h0M591.7 619.8h0M591.8 619.0h0M535.5 619.9h0M541.8 619.4h0M593.1 620.1h0M589.4 620.0h0M576.8 620.3h0M522.4 620.4h0M464.3 622.9h0M392.6 621.1h0M426.9 622.5h0M428.6 622.6h0M469.0 622.2h0M444.3 622.3h0M421.2 621.4h0M471.9 621.5h0M464.0 622.0h0M455.8 622.6h0M469.3 622.7h0M417.1 622.7h0M468.0 622.3h0M405.0 623.0h0M461.4 621.8h0M586.2 623.0h0M567.2 622.7h0M560.4 621.6h0M577.2 622.4h0M584.0 621.7h0M588.8 622.4h0M573.2 622.7h0M548.6 622.7h0M584.9 622.9h0M560.6 621.1h0M530.8 621.4h0M522.4 621.8h0M559.6 623.0h0M463.9 623.7h0M451.9 624.5h0M416.3 624.8h0M469.0 623.0h0M466.4 623.8h0M476.2 623.1h0M465.3 624.0h0M411.3 624.0h0M464.5 623.9h0M428.4 624.8h0M465.1 623.4h0M433.7 623.8h0M403.2 623.4h0M395.6 623.3h0M425.1 623.5h0M510.8 624.0h0M557.7 623.4h0M578.4 623.0h0M535.8 623.3h0M544.6 623.9h0M586.3 624.0h0M584.9 624.9h0M514.3 623.2h0M577.5 623.6h0M548.9 624.3h0M545.9 624.7h0M512.8 623.5h0M515.7 623.5h0M592.0 623.1h0M455.9 626.0h0M476.8 625.2h0M434.8 626.8h0M434.6 625.9h0M473.0 626.7h0M459.5 625.8h0M416.2 625.6h0M477.8 625.2h0M397.8 626.3h0M469.2 627.0h0M443.0 626.7h0M419.6 626.0h0M458.2 625.3h0M451.9 625.8h0M389.2 625.7h0M455.6 626.6h0M510.7 626.0h0M543.5 625.9h0M537.5 626.8h0M568.5 625.3h0M521.5 626.0h0M563.2 626.4h0M545.9 626.2h0M560.6 625.6h0M577.2 625.7h0M521.4 625.3h0M564.2 625.9h0M580.5 626.8h0M529.8 626.6h0M567.0 626.1h0M479.3 628.0h0M410.6 628.2h0M466.5 628.0h0M392.6 627.5h0M453.5 627.9h0M389.3 627.5h0M435.5 627.6h0M404.5 627.8h0M395.5 628.8h0M415.6 627.9h0M434.6 627.9h0M472.8 627.3h0M432.0 627.3h0M390.7 628.4h0M416.8 628.5h0M431.5 627.1h0M534.9 627.6h0M546.6 628.7h0M585.2 628.6h0M573.0 627.2h0M541.6 628.6h0M527.5 628.5h0M519.5 628.6h0M532.1 627.5h0M591.3 627.2h0M585.9 627.6h0M533.9 627.3h0M515.2 627.8h0M547.7 627.6h0M511.0 628.8h0M480.3 630.0h0M431.3 629.3h0M411.8 629.4h0M458.5 630.3h0M404.8 630.9h0M442.7 630.6h0M449.1 629.9h0M429.9 629.9h0M391.4 630.9h0M417.9 629.1h0M394.8 629.8h0M453.3 630.0h0M416.6 630.8h0M391.5 629.5h0M469.5 629.9h0M429.4 629.2h0M442.0 630.5h0M586.1 629.2h0M522.5 630.8h0M542.7 629.8h0M572.6 629.4h0M522.7 630.1h0M562.7 630.9h0M518.8 630.3h0M520.8 630.2h0M565.0 629.8h0M543.8 629.8h0M580.2 630.7h0M548.6 630.5h0M547.3 629.9h0M467.6 631.7h0M445.1 631.3h0M478.8 631.1h0M459.8 631.3h0M448.2 631.0h0M416.3 631.1h0M425.4 632.2h0M386.6 632.1h0M423.5 632.7h0M422.8 631.1h0M408.0 632.7h0M431.6 631.8h0M415.0 631.6h0M398.3 632.1h0M398.3 631.3h0M512.6 632.9h0M552.3 632.9h0M578.0 631.9h0M546.9 631.0h0M546.2 631.5h0M542.7 632.7h0M563.4 632.9h0M576.3 632.7h0M519.4 632.0h0M581.0 632.6h0M580.7 631.9h0M521.2 632.0h0M559.0 632.5h0M541.7 632.8h0M393.7 633.7h0M427.5 633.8h0M450.0 633.9h0M421.2 633.1h0M389.5 634.0h0M416.0 633.5h0M386.8 633.2h0M402.2 634.0h0M407.2 633.9h0M456.3 633.2h0M445.4 634.5h0M472.0 635.0h0M402.9 633.1h0M447.4 634.1h0M472.1 634.2h0M525.7 633.1h0M592.5 633.8h0M579.5 634.5h0M580.5 633.6h0M577.0 633.9h0M591.6 634.4h0M588.4 634.9h0M541.1 633.7h0M510.1 634.7h0M563.8 633.3h0M564.3 634.9h0M590.8 635.0h0M539.3 633.5h0M510.1 633.3h0M481.2 636.0h0M447.3 636.7h0M412.0 636.0h0M473.1 635.2h0M391.9 635.3h0M404.1 635.4h0M387.4 635.3h0M427.1 635.6h0M427.7 636.0h0M453.1 636.2h0M478.7 636.9h0M471.7 636.0h0M408.0 635.9h0M432.1 636.0h0M475.6 636.3h0M475.3 635.3h0M509.9 636.0h0M541.3 635.4h0M537.5 635.1h0M512.1 635.5h0M571.5 636.0h0M571.2 636.8h0M552.2 636.2h0M526.6 635.7h0M573.5 636.6h0M521.9 635.4h0M549.0 635.9h0M562.0 636.7h0M530.7 635.2h0M517.1 635.6h0M541.2 635.2h0M481.1 638.0h0M470.3 638.3h0M463.0 637.2h0M399.7 637.8h0M429.0 637.3h0M402.6 637.2h0M390.4 637.3h0M407.3 637.6h0M442.5 639.0h0M439.8 638.0h0M421.3 637.2h0M448.3 637.9h0M448.2 637.8h0M404.2 637.7h0M398.0 637.5h0M477.1 637.4h0M442.2 638.9h0M510.0 638.0h0M586.7 637.9h0M536.4 637.1h0M568.5 637.3h0M550.9 638.5h0M576.2 638.7h0M530.8 637.3h0M519.3 637.6h0M537.8 637.4h0M519.5 637.8h0M544.4 637.3h0M577.7 637.2h0M541.8 637.8h0M542.2 638.2h0M552.4 638.2h0M457.5 639.4h0M429.4 640.5h0M413.9 640.1h0M469.3 640.1h0M434.5 640.4h0M474.3 639.5h0M479.5 640.5h0M421.4 639.3h0M408.1 639.8h0M452.7 639.8h0M387.5 639.2h0M476.0 639.2h0M472.4 640.8h0M443.2 640.3h0M467.5 640.7h0M453.4 640.5h0M509.1 640.0h0M564.7 639.8h0M590.1 639.1h0M524.4 639.3h0M536.7 640.9h0M589.6 640.5h0M543.3 640.9h0M536.2 640.1h0M567.4 639.7h0M566.6 640.8h0M537.6 640.5h0M515.0 640.8h0M547.2 639.7h0M586.9 639.2h0M482.5 642.0h0M427.4 642.3h0M407.7 642.9h0M473.8 642.6h0M434.5 641.8h0M405.0 641.7h0M428.2 641.7h0M433.7 641.0h0M462.8 642.5h0M460.8 641.2h0M408.6 641.4h0M438.3 642.9h0M417.3 642.7h0M384.9 642.3h0M420.4 641.7h0M448.1 642.7h0M475.7 641.8h0M509.5 642.0h0M567.7 642.8h0M525.8 642.1h0M571.8 641.4h0M531.0 641.8h0M562.7 642.7h0M532.1 642.2h0M585.0 642.9h0M574.2 641.8h0M564.3 642.0h0M549.7 641.7h0M587.4 642.5h0M552.0 641.1h0M534.5 642.7h0M482.7 644.0h0M428.3 644.6h0M385.0 644.0h0M450.8 643.9h0M410.1 644.2h0M435.8 643.2h0M471.7 644.7h0M434.8 644.8h0M443.4 643.1h0M476.7 644.3h0M395.5 643.0h0M457.2 643.8h0M393.5 644.3h0M437.0 644.7h0M441.8 643.9h0M413.6 645.0h0M477.7 643.1h0M481.8 644.5h0M578.6 643.6h0M574.2 644.1h0M539.1 644.9h0M514.9 644.2h0M576.3 643.1h0M577.7 644.1h0M553.1 643.6h0M570.3 643.3h0M547.7 643.7h0M552.7 643.4h0M552.2 643.0h0M558.9 644.2h0M520.3 643.6h0M460.5 645.7h0M473.0 646.9h0M482.3 646.2h0M387.5 645.4h0M402.0 646.2h0M415.0 645.9h0M458.5 645.2h0M381.8 645.5h0M446.1 645.5h0M475.5 646.1h0M436.0 646.0h0M385.2 646.3h0M439.9 646.4h0M413.6 646.8h0M422.9 646.5h0M378.9 646.2h0M475.7 645.4h0M509.8 646.0h0M526.3 646.3h0M573.7 645.5h0M581.1 646.2h0M542.4 645.8h0M522.5 646.7h0M575.0 645.4h0M513.3 645.3h0M540.5 645.7h0M584.7 646.5h0M522.3 646.8h0M586.7 646.9h0M549.2 646.3h0M582.3 645.4h0M482.5 648.0h0M452.5 648.5h0M403.0 647.4h0M482.8 648.6h0M407.2 648.6h0M452.4 647.9h0M477.1 648.5h0M408.3 648.8h0M416.6 648.6h0M430.2 647.8h0M400.2 648.0h0M434.3 647.6h0M403.4 648.1h0M423.3 648.1h0M458.5 648.9h0M432.6 648.2h0M389.0 647.4h0M419.9 648.1h0M578.7 648.2h0M570.4 648.3h0M517.1 648.3h0M564.3 647.6h0M574.0 647.7h0M578.9 648.8h0M543.1 648.6h0M528.7 647.4h0M578.9 647.2h0M564.6 648.5h0M549.0 647.5h0M511.2 647.8h0M541.5 647.9h0M482.8 650.0h0M415.7 650.7h0M470.6 650.1h0M450.5 650.2h0M440.8 649.9h0M450.2 649.7h0M413.3 649.5h0M421.6 650.5h0M385.1 650.6h0M463.0 650.4h0M448.7 649.3h0M417.2 649.3h0M432.5 649.9h0M422.1 651.0h0M423.9 650.7h0M413.8 649.4h0M420.8 649.8h0M433.5 649.2h0M508.5 650.0h0M539.5 649.2h0M571.7 650.9h0M568.0 650.6h0M577.7 650.6h0M546.6 650.0h0M514.9 650.5h0M582.8 650.9h0M586.3 649.9h0M570.4 649.8h0M578.2 649.4h0M513.3 649.4h0M531.3 649.4h0M549.2 650.5h0M483.9 652.0h0M414.1 652.4h0M401.8 651.0h0M412.3 652.8h0M411.9 651.3h0M413.2 652.0h0M463.1 652.3h0M470.3 651.9h0M404.5 651.4h0M388.4 652.2h0M416.2 651.7h0M421.7 651.1h0M423.0 651.3h0M398.7 652.8h0M401.4 652.4h0M429.6 651.7h0M480.8 652.0h0M475.9 651.4h0M527.8 652.9h0M552.1 651.9h0M535.6 653.0h0M588.1 652.0h0M548.2 651.3h0M543.0 651.4h0M554.2 651.8h0M579.9 652.3h0M574.1 652.4h0M528.1 652.0h0M536.1 651.9h0M514.6 652.7h0M587.5 652.9h0M521.0 651.1h0M389.4 653.1h0M477.6 654.0h0M430.5 653.9h0M427.6 653.8h0M395.4 653.6h0M407.9 653.2h0M427.6 654.3h0M474.7 654.5h0M463.9 653.6h0M447.5 653.3h0M416.1 653.6h0M443.2 655.0h0M388.7 653.4h0M431.1 654.4h0M468.2 653.4h0M385.5 654.9h0M509.1 654.0h0M565.4 654.0h0M538.7 653.7h0M582.4 654.7h0M512.3 654.7h0M521.4 653.5h0M547.4 654.2h0M552.8 653.2h0M588.4 654.5h0M558.3 654.9h0M589.9 654.2h0M543.7 654.3h0M568.8 653.1h0M565.4 654.0h0M483.2 656.0h0M416.4 656.6h0M481.2 656.1h0M476.6 655.5h0M421.0 655.7h0M422.6 655.1h0M428.6 656.0h0M481.6 655.7h0M411.7 656.9h0M460.5 655.1h0M412.4 655.6h0M462.2 655.6h0M476.7 656.4h0M471.3 656.7h0M452.5 656.1h0M475.4 655.4h0M508.3 656.0h0M526.4 656.3h0M519.8 656.4h0M559.6 656.9h0M559.8 656.4h0M557.5 656.6h0M562.5 656.9h0M580.4 656.5h0M512.1 655.2h0M572.1 656.8h0M523.3 656.7h0M508.3 655.9h0M528.0 656.8h0M517.1 655.7h0M396.9 657.6h0M448.8 657.9h0M483.9 658.1h0M429.6 658.2h0M424.1 657.7h0M416.1 657.8h0M480.5 657.7h0M469.1 657.8h0M429.1 658.8h0M454.5 657.7h0M401.4 658.8h0M418.1 658.5h0M473.3 657.7h0M422.8 657.2h0M460.4 657.3h0M508.1 658.0h0M529.4 657.1h0M518.2 657.5h0M588.0 657.4h0M520.6 657.4h0M538.2 657.6h0M556.2 657.9h0M554.6 658.5h0M558.9 657.1h0M519.3 658.3h0M549.6 657.4h0M581.0 658.2h0M550.5 658.0h0M582.4 658.4h0M444.1 660.8h0M442.7 659.2h0M417.2 660.6h0M411.2 659.4h0M405.6 660.5h0M460.8 660.8h0M449.2 660.7h0M410.6 660.3h0M435.3 660.4h0M475.5 659.3h0M481.3 660.3h0M399.6 659.9h0M452.9 660.9h0M465.8 660.3h0M462.5 659.5h0M577.3 659.2h0M575.2 660.4h0M549.9 659.6h0M562.4 660.1h0M559.5 659.6h0M519.7 660.0h0M564.5 659.3h0M570.6 660.2h0M507.8 659.1h0M551.5 660.8h0M511.6 660.7h0M560.3 660.1h0M545.0 660.1h0M483.6 662.0h0M395.1 661.4h0M443.9 662.2h0M407.5 662.3h0M479.4 662.0h0M422.3 662.7h0M476.2 662.0h0M398.8 662.7h0M440.7 661.4h0M476.5 661.2h0M417.7 662.8h0M448.4 662.1h0M440.4 662.2h0M444.6 661.9h0M461.5 661.9h0M464.2 662.1h0M445.4 661.6h0M510.4 662.7h0M565.4 662.0h0M583.7 662.6h0M566.5 662.4h0M561.4 662.9h0M554.2 661.9h0M527.3 662.1h0M513.5 662.3h0M528.1 662.4h0M569.6 661.7h0M581.6 661.8h0M518.2 662.9h0M484.3 664.0h0M482.6 663.9h0M427.3 664.1h0M463.2 664.2h0M461.8 663.3h0M470.4 665.0h0M391.5 664.3h0M394.9 663.9h0M422.7 664.6h0M420.9 664.6h0M456.3 664.9h0M458.9 664.2h0M410.2 663.4h0M426.8 664.5h0M457.2 663.6h0M405.2 664.3h0M507.7 664.0h0M553.3 664.1h0M527.1 664.0h0M543.6 664.1h0M516.6 664.9h0M533.6 664.4h0M537.8 663.4h0M515.2 663.9h0M516.5 664.5h0M587.1 663.5h0M548.8 663.6h0M509.1 664.2h0M562.2 663.8h0M542.1 664.0h0M484.6 666.0h0M465.1 666.2h0M397.5 665.2h0M427.2 665.2h0M416.2 666.7h0M399.7 665.7h0M427.9 666.3h0M479.2 666.5h0M451.7 666.3h0M428.7 665.5h0M454.6 665.8h0M392.5 666.4h0M441.6 665.1h0M429.1 665.2h0M463.7 666.8h0M480.9 665.9h0M508.1 666.0h0M569.1 666.0h0M540.7 666.6h0M521.4 665.4h0M537.3 665.6h0M581.4 666.9h0M551.0 665.8h0M519.1 667.0h0M531.1 666.3h0M554.0 665.1h0M549.0 665.6h0M546.2 666.9h0M566.3 666.6h0M567.2 665.8h0M431.4 667.6h0M474.3 667.7h0M424.2 667.5h0M480.1 668.7h0M401.1 667.3h0M421.7 668.2h0M485.3 667.9h0M428.1 668.1h0M414.1 668.1h0M443.5 668.8h0M431.1 667.8h0M481.5 667.0h0M471.8 668.1h0M444.6 667.6h0M466.1 668.8h0M507.3 668.0h0M521.3 668.1h0M564.3 667.6h0M578.1 667.9h0M568.1 668.1h0M577.1 668.7h0M557.9 667.5h0M512.9 668.7h0M533.0 668.3h0M555.5 667.4h0M568.5 667.3h0M572.3 667.1h0M535.5 668.7h0M556.2 667.6h0M409.5 670.1h0M467.9 670.4h0M439.4 670.4h0M421.8 669.3h0M455.0 670.1h0M460.6 670.6h0M463.2 669.9h0M415.8 671.0h0M427.0 670.9h0M426.0 670.4h0M427.3 670.4h0M454.5 670.4h0M397.5 670.1h0M478.3 670.0h0M507.9 670.0h0M521.3 669.2h0M536.6 670.0h0M538.8 669.9h0M555.0 670.0h0M528.7 670.0h0M521.6 670.3h0M585.4 670.3h0M513.4 670.9h0M519.9 669.4h0M529.8 670.7h0M578.5 669.1h0M554.7 669.0h0M562.0 669.0h0M485.1 672.0h0M409.1 671.7h0M451.3 671.2h0M468.8 672.2h0M426.2 671.8h0M460.7 671.3h0M440.8 671.9h0M475.0 671.2h0M415.1 672.2h0M408.3 671.5h0M417.3 672.7h0M428.2 672.0h0M447.2 671.4h0M398.6 671.2h0M432.7 672.7h0M468.8 672.0h0M508.0 672.0h0M560.2 671.9h0M550.2 671.5h0M567.1 672.8h0M570.0 672.1h0M530.7 671.5h0M550.7 671.7h0M551.5 672.5h0M540.1 672.1h0M554.9 672.8h0M569.2 672.1h0M509.4 672.0h0M523.5 671.2h0M446.8 674.5h0M437.7 674.4h0M415.5 674.5h0M455.5 674.3h0M451.4 674.8h0M399.4 674.6h0M456.9 673.8h0M468.9 674.0h0M422.6 674.1h0M465.7 674.1h0M438.1 673.8h0M433.1 673.1h0M404.0 673.7h0M462.1 673.9h0M533.4 674.8h0M531.6 674.9h0M567.3 673.5h0M564.8 673.3h0M580.2 674.2h0M563.3 674.7h0M537.8 673.2h0M563.8 673.8h0M541.9 674.6h0M525.4 673.4h0M556.0 674.2h0M545.4 673.2h0M540.0 674.7h0M481.1 675.7h0M451.9 676.1h0M470.2 676.2h0M421.7 675.8h0M453.5 675.5h0M415.4 676.9h0M467.9 675.4h0M430.8 675.4h0M485.8 675.6h0M411.4 676.7h0M456.3 675.0h0M426.0 675.3h0M450.6 676.2h0M559.8 676.6h0M567.6 676.2h0M521.8 676.3h0M523.0 676.9h0M582.4 675.2h0M556.2 676.8h0M529.7 675.0h0M560.9 676.4h0M581.2 675.6h0M552.5 675.8h0M533.7 675.3h0M581.5 676.2h0M520.3 675.9h0M539.3 675.2h0M485.3 678.0h0M474.6 678.6h0M464.8 677.6h0M432.6 678.4h0M458.7 678.7h0M465.7 678.1h0M456.5 678.6h0M438.7 677.5h0M447.4 678.8h0M455.4 677.5h0M458.3 678.6h0M458.1 678.6h0M407.1 678.5h0M481.6 678.7h0M591.7 677.1h0M537.0 678.7h0M521.1 677.4h0M522.7 678.6h0M561.9 677.1h0M559.1 678.2h0M560.4 678.8h0M564.9 678.0h0M560.4 678.1h0M527.2 678.9h0M527.2 677.2h0M534.5 677.4h0M584.3 678.0h0M539.8 677.7h0M485.8 680.0h0M463.1 679.3h0M406.9 680.4h0M429.6 680.1h0M404.3 679.3h0M418.4 680.7h0M453.4 679.9h0M420.9 679.1h0M453.8 679.3h0M440.1 680.2h0M477.3 679.0h0M405.6 680.2h0M407.9 680.4h0M435.8 680.8h0M468.9 680.4h0M506.5 680.0h0M533.4 680.2h0M523.6 681.0h0M591.0 680.4h0M561.4 680.2h0M532.4 679.6h0M549.4 679.3h0M520.8 680.8h0M554.7 680.3h0M565.2 680.1h0M543.5 680.6h0M588.3 679.2h0M543.6 680.1h0M550.4 679.9h0M569.4 680.3h0M486.3 682.0h0M461.6 682.7h0M427.9 682.9h0M410.9 681.2h0M405.1 682.1h0M431.3 682.8h0M409.8 682.8h0M405.7 681.7h0M438.3 682.6h0M440.1 681.3h0M446.4 681.2h0M451.7 682.9h0M407.7 681.9h0M444.4 681.2h0M506.9 682.0h0M548.4 682.3h0M576.6 682.0h0M570.9 682.9h0M569.8 681.9h0M523.9 682.6h0M522.5 681.1h0M529.6 681.0h0M543.6 681.9h0M562.6 681.4h0M580.9 681.6h0M513.4 682.6h0M551.1 682.3h0M520.6 681.3h0M486.3 684.0h0M413.1 684.1h0M481.4 683.7h0M466.2 684.9h0M467.2 684.5h0M419.8 684.3h0M404.7 683.5h0M458.7 683.9h0M400.1 683.1h0M459.5 684.2h0M469.7 683.9h0M463.8 684.9h0M412.5 683.7h0M474.2 684.5h0M448.8 684.7h0M505.8 684.0h0M530.2 683.6h0M550.2 683.1h0M510.6 683.7h0M515.6 684.0h0M529.1 684.4h0M510.7 685.0h0M534.4 683.7h0M570.5 685.0h0M547.2 684.5h0M511.7 683.8h0M545.5 684.7h0M540.7 683.9h0M544.4 684.0h0M486.6 686.0h0M454.3 685.1h0M413.1 687.0h0M431.2 686.6h0M484.6 686.7h0M469.4 685.2h0M474.5 685.5h0M486.6 685.0h0M458.9 685.9h0M423.6 685.7h0M462.7 685.2h0M465.1 685.5h0M437.5 686.9h0M487.0 686.7h0M472.6 685.7h0M506.1 686.0h0M520.4 686.3h0M585.8 686.9h0M576.7 685.4h0M558.3 685.5h0M540.3 686.5h0M517.8 686.3h0M544.7 686.7h0M555.6 686.7h0M584.7 686.6h0M565.1 685.2h0M521.4 685.1h0M553.5 685.4h0M532.4 685.8h0M486.5 688.0h0M422.8 687.2h0M483.0 687.3h0M481.4 687.7h0M453.6 688.2h0M479.1 688.0h0M411.3 687.9h0M432.0 688.1h0M448.9 689.0h0M447.1 687.6h0M446.9 687.6h0M416.1 687.2h0M458.9 687.3h0M422.3 687.6h0M506.2 688.0h0M557.3 688.7h0M558.7 688.9h0M542.3 687.1h0M552.0 687.0h0M583.7 687.6h0M547.1 688.3h0M514.9 687.7h0M536.0 688.9h0M518.1 688.6h0M561.1 688.5h0M572.5 688.0h0M585.1 688.1h0M534.8 687.1h0M411.6 690.5h0M412.5 689.0h0M454.8 691.0h0M456.3 690.9h0M425.4 690.4h0M451.5 689.8h0M453.7 690.4h0M419.3 690.3h0M474.9 689.1h0M409.1 690.8h0M460.4 689.9h0M409.5 690.4h0M471.0 689.8h0M505.7 690.0h0M520.6 690.2h0M528.6 689.2h0M552.9 689.4h0M554.3 690.0h0M568.1 689.5h0M577.5 690.1h0M572.5 690.4h0M516.3 689.5h0M533.1 689.9h0M534.1 690.5h0M564.3 689.0h0M581.3 690.5h0M552.4 690.7h0M432.7 692.9h0M458.5 693.0h0M452.7 692.8h0M454.7 692.0h0M476.8 692.4h0M452.8 692.0h0M446.5 691.7h0M441.5 692.4h0M417.4 692.6h0M472.7 691.4h0M464.5 692.2h0M455.5 691.1h0M569.9 691.8h0M509.4 691.1h0M567.6 692.8h0M577.5 692.5h0M528.0 692.8h0M552.7 692.4h0M513.7 692.7h0M533.7 691.9h0M565.0 691.8h0M563.0 692.8h0M581.9 691.1h0M566.6 693.0h0M576.1 692.3h0M458.2 693.1h0M426.1 694.7h0M416.1 693.8h0M432.1 693.8h0M481.8 694.8h0M446.0 693.1h0M427.4 693.1h0M443.0 694.7h0M445.1 693.4h0M426.1 693.2h0M464.6 693.7h0M482.0 694.4h0M505.5 694.0h0M534.2 693.1h0M585.5 693.9h0M535.0 694.3h0M571.6 693.9h0M562.9 694.5h0M514.0 694.5h0M567.0 694.8h0M522.0 693.7h0M540.0 694.4h0M568.0 693.1h0M512.6 693.6h0M582.1 694.6h0M534.4 693.2h0M487.5 696.0h0M452.6 695.4h0M485.6 695.7h0M457.5 696.2h0M443.3 697.0h0M461.9 695.8h0M455.4 695.8h0M433.5 695.7h0M475.5 695.3h0M453.0 695.6h0M477.6 695.2h0M449.1 695.7h0M442.2 696.6h0M509.6 695.3h0M551.4 696.9h0M519.5 695.1h0M536.4 695.4h0M536.3 695.7h0M552.0 695.3h0M537.5 696.9h0M523.5 696.5h0M534.9 696.2h0M505.4 696.6h0M560.7 695.6h0M566.2 695.5h0M470.9 697.2h0M463.6 697.1h0M461.8 698.0h0M449.5 698.2h0M429.7 698.4h0M444.0 697.1h0M486.7 698.9h0M416.0 698.0h0M462.0 697.4h0M460.1 697.3h0M428.8 697.0h0M460.2 699.0h0M443.3 697.7h0M505.3 698.0h0M554.7 697.6h0M540.6 698.7h0M517.4 698.8h0M562.2 698.0h0M578.3 698.7h0M519.5 698.2h0M537.3 698.7h0M513.3 698.0h0M508.0 698.5h0M521.7 698.1h0M560.2 698.6h0M538.0 697.7h0M576.9 698.8h0M477.5 699.0h0M446.8 699.1h0M455.9 700.6h0M465.5 700.1h0M415.7 699.3h0M484.9 700.3h0M447.9 699.0h0M454.5 700.7h0M430.2 700.1h0M451.6 700.3h0M457.8 700.7h0M486.1 700.4h0M504.5 700.0h0M521.0 699.5h0M555.8 700.8h0M517.3 699.6h0M510.5 699.4h0M577.8 699.2h0M563.5 700.6h0M524.6 699.7h0M515.4 700.2h0M523.1 699.1h0M545.9 699.3h0M509.0 700.1h0M507.7 701.0h0M457.4 701.2h0M466.5 702.7h0M450.6 702.5h0M469.8 702.3h0M431.8 702.5h0M433.8 702.6h0M434.7 702.0h0M450.6 702.2h0M420.5 701.1h0M481.2 701.6h0M487.4 702.3h0M440.5 702.2h0M581.3 702.5h0M543.0 701.4h0M571.4 701.5h0M536.1 702.3h0M517.4 701.2h0M559.7 701.9h0M560.1 702.5h0M580.0 701.7h0M513.3 701.6h0M578.8 701.3h0M561.1 701.9h0M565.7 702.7h0M488.4 704.0h0M418.4 703.5h0M429.6 704.9h0M414.2 704.7h0M415.5 705.0h0M464.2 703.6h0M459.3 704.5h0M475.6 703.3h0M482.8 704.5h0M482.6 703.1h0M483.8 704.6h0M424.5 704.5h0M466.1 703.9h0M463.8 703.5h0M521.8 703.9h0M550.2 704.8h0M549.9 703.6h0M528.3 704.4h0M573.6 704.9h0M547.1 703.6h0M567.7 703.4h0M571.5 703.6h0M514.5 703.1h0M536.7 703.7h0M558.0 704.7h0M536.1 704.9h0M488.3 706.0h0M430.3 705.7h0M488.3 705.6h0M421.8 706.9h0M457.3 706.3h0M473.9 705.9h0M471.3 706.2h0M416.4 705.0h0M470.6 705.0h0M471.0 705.7h0M482.2 705.1h0M413.4 706.8h0M425.4 706.5h0M424.8 706.1h0M567.0 705.6h0M543.7 706.3h0M571.5 706.3h0M505.3 706.0h0M504.5 705.6h0M570.1 705.7h0M533.9 706.8h0M555.4 705.2h0M576.3 706.3h0M568.2 706.7h0M576.8 705.3h0M508.7 705.0h0M472.3 707.6h0M446.8 707.1h0M420.3 707.0h0M456.5 707.1h0M417.6 707.8h0M486.4 708.0h0M455.4 707.6h0M408.8 707.0h0M451.2 709.0h0M459.8 707.6h0M437.7 708.9h0M425.5 708.8h0M442.9 708.4h0M503.8 708.0h0M548.2 708.3h0M570.6 708.7h0M531.8 708.9h0M538.9 708.2h0M514.0 708.4h0M521.3 707.1h0M541.6 707.1h0M570.6 709.0h0M557.3 707.3h0M538.3 707.7h0M567.1 708.5h0M489.3 710.0h0M411.8 709.5h0M468.6 709.2h0M433.0 710.6h0M417.3 710.9h0M427.1 710.5h0M438.3 709.9h0M435.2 710.1h0M445.1 709.9h0M451.4 709.2h0M457.3 709.5h0M446.6 709.8h0M417.2 709.7h0M459.4 709.0h0M504.1 710.0h0M554.3 710.4h0M545.0 709.1h0M573.0 709.1h0M548.8 709.9h0M562.0 710.1h0M534.8 710.4h0M508.6 710.5h0M566.9 709.9h0M537.6 709.9h0M530.5 710.3h0M543.0 710.4h0M548.0 709.2h0M489.0 712.0h0M427.6 712.5h0M437.7 712.5h0M461.0 711.2h0M457.6 712.3h0M449.5 712.9h0M413.7 712.3h0M418.4 712.0h0M423.1 712.7h0M438.4 711.6h0M425.3 712.2h0M427.5 712.2h0M453.2 711.2h0M504.0 712.0h0M538.9 712.3h0M543.2 712.7h0M550.0 712.9h0M549.7 712.5h0M541.4 711.2h0M541.5 711.5h0M531.8 712.2h0M514.4 711.7h0M558.0 712.7h0M555.1 711.3h0M528.4 712.7h0M473.3 714.9h0M444.4 714.8h0M424.1 714.2h0M460.5 714.0h0M432.9 714.3h0M451.1 714.1h0M470.5 714.0h0M449.4 714.5h0M479.6 714.5h0M477.4 714.4h0M488.1 713.5h0M422.7 713.3h0M503.0 714.0h0M541.0 713.1h0M536.7 713.9h0M504.5 714.0h0M522.1 714.5h0M535.4 714.7h0M523.9 714.3h0M560.8 714.9h0M518.8 715.0h0M507.5 714.9h0M551.7 713.6h0M440.6 715.3h0M469.9 717.0h0M421.2 717.0h0M428.2 715.5h0M461.7 715.1h0M438.6 716.8h0M442.0 715.7h0M459.9 716.4h0M471.0 715.9h0M465.4 715.7h0M472.8 715.0h0M452.2 715.3h0M414.7 716.7h0M551.4 717.0h0M545.5 716.9h0M527.8 716.8h0M537.8 717.0h0M515.8 715.4h0M523.6 716.6h0M551.2 716.6h0M520.2 715.8h0M523.9 716.7h0M516.0 716.4h0M533.5 715.3h0M489.0 718.0h0M469.5 718.9h0M486.8 717.7h0M477.1 718.8h0M440.2 717.9h0M465.6 718.4h0M465.3 718.0h0M466.4 717.1h0M449.6 717.2h0M484.2 718.9h0M427.2 717.4h0M427.2 717.6h0M444.3 718.9h0M503.4 718.0h0M551.4 717.5h0M539.1 717.2h0M562.2 717.8h0M540.1 719.0h0M505.0 717.4h0M533.7 719.0h0M516.8 717.6h0M534.6 718.0h0M549.4 717.5h0M513.1 717.8h0M475.1 719.9h0M519.3 719.8h0M417.1 719.4h0M467.3 719.2h0M422.3 719.9h0M444.2 720.3h0M462.1 720.3h0M489.2 719.4h0M531.8 720.8h0M492.3 720.1h0M453.5 720.9h0M437.7 719.0h0M525.3 720.6h0M501.6 719.4h0M442.0 719.3h0M441.6 719.8h0M499.8 719.0h0M499.9 720.7h0M533.6 720.9h0M525.9 719.4h0M428.3 720.5h0M483.3 720.8h0M441.3 720.9h0M550.1 722.0h0M496.2 722.2h0M442.8 721.2h0M495.0 722.6h0M512.7 721.4h0M487.6 721.0h0M527.8 722.9h0M519.5 722.1h0M445.1 722.0h0M471.7 722.2h0M514.9 722.9h0M468.1 721.9h0M481.9 721.1h0M462.9 722.4h0M451.5 721.3h0M471.1 721.5h0M458.6 721.7h0M536.2 721.6h0M514.3 721.3h0M490.3 722.2h0M482.1 721.8h0M513.7 721.0h0M548.5 724.0h0M475.2 723.1h0M456.7 723.5h0M439.2 724.4h0M471.4 724.1h0M511.0 724.5h0M518.9 723.7h0M483.3 724.2h0M474.1 723.2h0M431.0 723.3h0M422.5 724.9h0M431.2 724.1h0M493.8 723.4h0M488.4 724.1h0M536.9 723.4h0M546.4 723.2h0M434.6 723.0h0M519.7 723.7h0M514.7 724.2h0M438.5 723.5h0M462.5 724.9h0M536.4 724.1h0M495.9 726.8h0M442.7 725.1h0M539.5 725.4h0M484.9 726.9h0M448.3 725.8h0M466.7 726.0h0M533.3 726.7h0M451.3 725.4h0M501.6 725.0h0M443.2 726.0h0M513.1 726.0h0M457.3 725.2h0M432.5 725.7h0M448.5 725.9h0M474.7 725.5h0M488.4 726.8h0M470.7 725.1h0M517.1 725.4h0M474.3 726.5h0M458.2 726.4h0M428.0 728.0h0M496.6 727.7h0M479.3 727.7h0M441.9 727.1h0M452.6 728.2h0M470.1 728.1h0M497.3 728.9h0M461.5 728.1h0M477.9 728.7h0M471.7 728.8h0M447.1 727.4h0M470.2 728.4h0M483.6 728.3h0M509.3 727.4h0M465.6 728.7h0M516.4 727.9h0M535.0 727.9h0M477.6 727.2h0M450.9 727.2h0M431.6 728.7h0M547.3 730.0h0M508.1 729.4h0M526.9 729.1h0M518.8 730.3h0M511.7 729.3h0M482.5 731.0h0M468.5 730.6h0M525.7 729.1h0M465.5 729.9h0M448.7 730.2h0M454.6 729.6h0M498.6 730.1h0M463.5 729.6h0M494.3 730.9h0M533.7 729.3h0M491.4 730.2h0M541.2 731.0h0M465.3 729.8h0M457.2 729.3h0M547.0 732.0h0M449.1 732.4h0M440.7 732.6h0M510.5 731.2h0M466.8 731.0h0M478.2 733.0h0M529.2 731.1h0M500.5 731.3h0M477.0 732.7h0M459.2 731.9h0M504.4 731.5h0M542.7 732.0h0M479.6 731.9h0M496.1 731.6h0M504.4 732.0h0M523.9 732.8h0M447.0 732.1h0M498.4 732.0h0M494.1 731.3h0M470.3 734.8h0M504.6 734.4h0M545.2 733.3h0M523.3 734.0h0M542.9 733.5h0M457.4 734.0h0M524.0 733.8h0M513.9 734.7h0M454.4 733.1h0M438.2 734.0h0M447.5 733.6h0M529.4 734.2h0M522.8 733.7h0M457.7 734.8h0M452.2 733.6h0M530.4 734.5h0M474.4 733.1h0M544.3 736.0h0M479.5 736.9h0M511.2 736.8h0M527.8 736.2h0M506.9 736.5h0M524.7 736.7h0M442.6 735.8h0M539.1 736.6h0M480.0 735.6h0M457.5 736.2h0M529.0 735.1h0M440.4 735.9h0M480.2 736.1h0M527.1 736.6h0M526.6 736.2h0M517.5 736.8h0M510.9 735.3h0M519.6 736.4h0M521.8 736.3h0M439.8 738.0h0M441.0 738.7h0M538.7 737.5h0M482.3 738.7h0M503.8 737.3h0M447.5 737.4h0M527.4 738.1h0M538.1 738.4h0M529.6 737.7h0M515.9 737.4h0M449.3 738.2h0M530.1 739.0h0M476.1 738.8h0M545.3 737.8h0M483.1 738.3h0M447.3 738.6h0M506.2 738.3h0M531.6 738.2h0M544.7 740.0h0M481.1 739.4h0M543.2 739.6h0M499.5 740.8h0M540.3 739.2h0M462.1 739.9h0M502.0 739.4h0M476.1 739.9h0M527.9 739.6h0M495.2 739.1h0M499.6 739.3h0M475.7 739.8h0M536.2 740.3h0M457.5 739.5h0M467.9 740.4h0M480.5 740.2h0M519.6 739.6h0M445.6 742.0h0M495.5 742.6h0M448.9 741.8h0M515.0 741.9h0M534.4 741.2h0M530.6 741.8h0M528.7 741.9h0M484.1 741.1h0M463.9 742.4h0M467.0 741.4h0M518.9 742.6h0M467.6 741.8h0M515.2 741.7h0M505.5 741.3h0M512.2 742.9h0M526.0 741.5h0M470.4 742.6h0M542.7 744.0h0M521.1 744.7h0M478.8 744.9h0M489.1 743.2h0M465.4 744.9h0M470.5 743.7h0M527.0 744.1h0M540.2 744.6h0M463.9 743.9h0M522.1 744.5h0M541.9 743.1h0M472.2 743.6h0M457.8 744.8h0M467.3 743.9h0M469.5 743.1h0M522.7 744.7h0M541.1 746.0h0M536.7 745.2h0M530.3 746.3h0M485.7 745.2h0M527.0 746.5h0M481.7 745.8h0M494.0 746.9h0M508.5 746.6h0M462.2 745.4h0M516.9 745.0h0M540.9 746.4h0M533.4 746.0h0M480.9 746.8h0M457.4 745.4h0M513.3 746.2h0M499.7 746.6h0M451.3 748.0h0M487.2 748.7h0M499.5 747.3h0M491.0 747.5h0M478.1 748.1h0M516.0 747.3h0M498.4 747.8h0M513.8 748.6h0M538.1 748.7h0M453.8 748.4h0M453.6 748.9h0M482.9 747.1h0M491.2 748.4h0M490.7 748.0h0M498.4 747.8h0M451.1 750.0h0M478.8 750.3h0M456.5 750.3h0M479.3 749.4h0M488.4 749.5h0M476.0 749.0h0M470.0 749.8h0M477.5 749.8h0M493.4 750.2h0M517.8 749.0h0M490.1 750.9h0M488.2 750.6h0M470.4 749.7h0M489.1 750.9h0M471.1 752.5h0M484.3 751.1h0M512.2 751.1h0M505.6 751.2h0M530.1 751.5h0M460.8 751.3h0M482.5 751.5h0M495.7 752.2h0M454.4 752.5h0M476.5 751.2h0M509.1 751.6h0M523.1 752.8h0M493.9 752.1h0M503.3 751.4h0M463.6 754.7h0M480.1 754.8h0M530.6 753.4h0M488.2 754.5h0M486.9 754.8h0M486.4 754.1h0M468.2 754.5h0M470.6 754.3h0M458.4 753.3h0M473.9 754.1h0M462.1 754.5h0M468.3 753.9h0M464.4 756.0h0M472.6 756.0h0M484.2 756.2h0M514.9 755.7h0M526.0 756.4h0M504.1 755.2h0M517.4 756.3h0M527.8 755.4h0M517.8 756.9h0M494.3 756.9h0M464.4 756.6h0M519.1 756.9h0M529.1 758.0h0M502.4 758.6h0M505.3 757.5h0M525.1 758.6h0M469.6 757.4h0M478.9 758.8h0M475.7 757.7h0M509.3 758.3h0M487.4 758.2h0M481.6 757.1h0M482.7 757.8h0M472.7 760.0h0M523.8 759.3h0M520.5 759.9h0M514.5 760.4h0M504.0 760.2h0M508.2 759.8h0M517.3 760.8h0M512.7 759.7h0M498.1 759.0h0M490.1 759.2h0M507.1 761.5h0M508.9 761.3h0M521.8 762.2h0M477.4 762.1h0M490.1 762.0h0M506.7 762.4h0M489.4 761.5h0M488.4 762.0h0M515.4 764.0h0M500.3 764.2h0M488.9 764.2h0M482.3 764.0h0M514.2 764.9h0M507.6 763.7h0M499.6 764.2h0M491.2 766.6h0M496.9 765.4h0M508.0 766.8h0M492.3 766.1h0M497.0 767.4h0M485.9 768.3h0M489.0 767.9h0M432.6 380.4h0M441.4 389.7h0M430.7 431.0h0M438.1 425.2h0M450.4 432.8h0M440.9 396.0h0M428.6 408.8h0M446.9 382.6h0M427.4 386.9h0M442.7 353.8h0M437.9 383.1h0M432.0 384.6h0M445.6 420.2h0M444.7 383.9h0M453.5 366.9h0M440.6 399.7h0M429.1 387.2h0M434.8 367.6h0M442.3 437.4h0M431.8 376.5h0M425.9 377.4h0M449.4 384.7h0M457.8 406.1h0M431.0 402.3h0M431.3 395.6h0M448.9 380.9h0M455.2 419.0h0M433.6 426.2h0M449.5 410.2h0M453.2 407.4h0M446.7 402.9h0M457.7 416.8h0M429.9 367.8h0M446.5 434.8h0M430.5 400.8h0M435.2 372.8h0M429.3 357.4h0M440.5 428.9h0M432.1 441.4h0M426.5 376.1h0M433.5 431.7h0M450.2 407.8h0M433.3 370.4h0M456.3 376.9h0M427.9 424.6h0M425.2 400.9h0M538.2 366.2h0M553.7 411.9h0M554.6 370.1h0M553.5 388.4h0M553.7 402.5h0M532.8 441.5h0M538.4 440.9h0M565.0 408.1h0M563.1 411.0h0M532.5 392.9h0M561.6 412.9h0M544.4 393.2h0M566.3 423.3h0M542.6 421.1h0M558.5 372.3h0M533.0 377.6h0M536.7 426.7h0M551.2 363.2h0M563.2 392.4h0M537.8 433.3h0M562.3 370.4h0M546.4 416.1h0M562.4 424.0h0M532.2 434.1h0M537.4 378.8h0M542.3 372.8h0M551.1 421.0h0M554.9 439.8h0M554.9 368.5h0M531.2 376.6h0M535.3 376.9h0M563.9 393.4h0M552.6 420.2h0M539.8 439.7h0M540.8 435.8h0M550.9 401.1h0M557.3 410.0h0M531.0 439.1h0M536.3 435.4h0M566.7 370.8h0M539.5 376.3h0M531.1 441.9h0M532.2 432.7h0M555.7 368.1h0M530.2 436.2h0M533.2 371.5h0M428.0 162.3h0M428.7 204.3h0M439.0 224.7h0M443.3 226.0h0M428.3 242.7h0M431.0 250.3h0M447.7 250.0h0M438.3 265.0h0M451.7 269.0h0M437.3 275.0h0M440.0 278.0h0M425.7 281.0h0M532.0 200.3h0M567.0 240.0h0M563.3 254.0h0M185.7 569.3h0M269.0 586.7h0M302.7 580.0h0M312.3 591.0h0M309.3 596.0h0M241.7 628.0h0M269.3 627.7h0M301.0 620.3h0M295.7 635.0h0M232.0 656.3h0M292.7 655.3h0M303.0 667.3h0M329.0 564.0h0M339.0 605.0h0M340.7 565.7h0M352.0 580.0h0M353.3 571.3h0M361.3 572.0h0M371.3 580.0h0M376.0 571.3h0M357.3 592.7h0M362.0 598.7h0M373.3 600.0h0M352.0 610.7h0M360.0 605.3h0M380.0 610.7h0M385.3 608.0h0M361.3 619.3h0M366.7 618.0h0M340.0 624.7h0M368.0 626.7h0M382.7 624.0h0M362.0 635.3h0M366.7 638.7h0M376.0 633.3h0M352.0 644.7h0M377.3 646.7h0M366.0 662.7h0M346.0 674.0h0M386.7 660.0h0M388.0 666.7h0M395.0 685.0h0M391.0 701.4h0M386.4 706.9h0M376.3 716.2h0M367.8 728.3h0M408.7 734.0h0M633.9 566.7h0M645.2 569.3h0M674.3 564.6h0M628.1 590.0h0M634.6 595.7h0M640.4 599.6h0M613.7 595.7h0M619.9 601.7h0M623.8 605.5h0M630.0 604.8h0M635.4 608.7h0M632.3 618.5h0M611.8 609.4h0M611.8 614.9h0M614.4 629.7h0M614.4 639.8h0M631.9 640.1h0M653.8 646.8h0M686.7 608.7h0M662.6 624.5h0M669.6 624.2h0M689.4 624.7h0M686.0 640.8h0M598.1 634.3h0M602.0 648.3h0M606.7 648.3h0M609.8 654.5h0M613.7 662.3h0M601.2 660.8h0M621.9 670.6h0M664.7 676.3h0M633.9 684.5h0M610.5 691.1h0M594.2 676.3h0M600.3 715.0h0M552.9 743.4h0M538.1 752.8h0M801.2 569.5h0M798.5 631.9h0M432.4 293.6h0M444.4 305.0h0M434.8 321.0h0M442.0 330.0h0M437.0 332.0h0M449.0 339.0h0M432.0 338.0h0M450.0 350.0h0M457.0 352.0h0M463.0 356.4h0M437.0 354.0h0M430.0 350.0h0M454.4 366.0h0M442.0 369.0h0M431.0 364.0h0M436.0 370.0h0M443.0 376.0h0M456.0 378.0h0M458.0 384.0h0M430.0 378.0h0M430.0 390.0h0M441.0 393.0h0M453.0 392.0h0M459.0 392.0h0M443.0 404.0h0M458.0 402.0h0M452.0 408.0h0M425.0 406.0h0M436.0 418.0h0M447.0 416.0h0M458.0 420.0h0M468.0 420.0h0M430.0 422.0h0M443.0 430.0h0M456.0 430.0h0M432.0 434.0h0M464.0 438.0h0M467.0 442.0h0M470.0 450.0h0M556.0 294.0h0M562.0 296.0h0M568.0 295.0h0M540.0 305.0h0M543.0 304.0h0M552.0 310.0h0M534.0 320.0h0M563.0 318.0h0M569.0 321.0h0M554.0 325.0h0M548.0 329.0h0M543.0 333.0h0M552.0 339.0h0M539.0 344.0h0M543.0 351.0h0M539.0 357.0h0M546.0 361.0h0M558.0 362.0h0M566.0 363.0h0M531.0 368.0h0M527.0 371.0h0M525.0 378.0h0M541.0 378.0h0M550.0 370.0h0M558.0 374.0h0M548.0 380.0h0M527.0 392.0h0M538.0 394.0h0M544.0 398.0h0M558.0 402.0h0M566.0 406.0h0M528.0 406.0h0M532.0 414.0h0M542.0 410.0h0M554.0 418.0h0M534.0 422.0h0M530.0 430.0h0M546.0 430.0h0M558.0 426.0h0M528.0 442.0h0M524.0 450.0h0M519.0 460.0h0M517.0 467.0h0M496.2 769.0h0M492.5 766.5h0M500.0 766.5h0M488.0 764.0h0M504.0 763.5h0M496.0 764.0h0" stroke="#999999" stroke-width="12.4" stroke-linecap="round" fill="none"/>
<path d="M422.4 555.8h0M404.6 461.3h0M420.0 532.6h0M416.8 485.7h0M415.5 518.4h0M415.0 469.3h0M412.0 495.1h0M417.8 560.9h0M422.3 511.6h0M412.3 481.4h0M404.2 455.0h0M412.7 486.9h0M411.0 549.7h0M413.9 513.4h0M408.2 454.6h0M409.9 467.0h0M413.6 561.4h0M416.9 471.9h0M421.2 539.2h0M418.0 551.3h0M418.6 538.5h0M410.5 559.4h0M422.5 469.6h0M418.4 530.3h0M412.6 510.1h0M413.2 553.3h0M413.4 543.1h0M410.5 548.7h0M421.3 502.5h0M414.7 552.8h0M417.8 505.3h0M407.9 487.6h0M417.4 470.2h0M421.5 481.4h0M421.5 485.9h0M422.5 529.3h0M413.5 508.7h0M416.4 516.4h0M409.7 474.8h0M413.6 554.3h0M415.8 460.3h0M419.7 531.5h0M421.5 473.0h0M418.2 458.4h0M416.4 481.9h0M408.0 547.9h0M405.6 509.2h0M420.4 478.8h0M407.7 548.4h0M411.9 530.5h0M404.1 491.7h0M406.9 525.7h0M405.1 556.5h0M404.0 531.9h0M403.9 480.0h0M419.6 469.2h0M407.1 527.7h0M411.1 456.7h0M423.1 468.6h0M404.2 489.7h0M415.7 533.3h0M405.7 488.9h0M404.1 501.1h0M418.7 533.0h0M421.4 534.7h0M420.6 529.2h0M412.9 476.7h0M416.6 486.6h0M405.5 501.0h0M420.8 466.0h0M415.1 495.0h0M413.7 467.7h0M422.5 480.4h0M415.5 498.0h0M403.9 513.1h0M406.3 458.2h0M404.2 469.6h0M405.4 521.5h0M413.6 559.7h0M422.0 560.9h0M408.1 500.7h0M408.5 516.7h0M415.9 539.6h0M417.5 480.1h0M411.9 509.6h0M403.6 455.9h0M411.6 464.2h0M417.8 478.4h0M405.5 471.9h0M408.1 475.8h0M396.8 543.0h0M393.6 549.1h0M392.2 558.3h0M403.4 552.1h0M395.5 544.6h0M397.7 528.8h0M395.3 545.1h0M391.7 530.2h0M401.0 539.6h0M396.8 558.8h0M398.2 537.0h0M403.8 539.8h0M389.3 550.6h0M390.5 537.6h0M401.6 550.2h0M389.2 542.6h0M395.2 543.8h0M392.1 547.3h0M390.1 536.8h0M394.6 559.3h0M390.1 553.0h0M391.9 546.7h0M413.4 398.3h0M419.3 391.5h0M409.0 364.2h0M408.3 437.0h0M417.4 448.0h0M418.3 354.5h0M417.7 429.7h0M418.8 401.8h0M412.8 397.7h0M420.0 378.9h0M415.6 399.8h0M422.6 432.4h0M422.2 435.6h0M411.8 375.2h0M415.0 377.9h0M414.0 419.9h0M422.0 410.6h0M420.3 361.6h0M412.8 451.8h0M409.4 393.7h0M408.1 360.6h0M421.6 450.9h0M417.6 364.9h0M411.8 375.2h0M417.9 420.1h0M414.2 404.4h0M411.7 109.0h0M397.7 120.3h0M409.0 188.0h0M405.3 200.7h0M406.3 215.7h0M412.7 223.3h0M387.0 224.7h0M229.7 222.0h0M395.3 239.3h0M410.0 238.3h0M381.7 253.0h0M390.0 256.3h0M404.7 259.0h0M413.3 254.7h0M367.0 275.7h0M395.3 276.7h0M405.3 272.7h0M413.7 281.0h0M406.7 283.3h0M410.0 287.3h0M402.0 291.7h0M319.7 288.3h0M375.7 294.0h0M366.0 302.3h0M356.0 312.7h0M398.0 309.3h0M394.3 317.3h0M405.3 323.3h0M297.0 409.0h0M307.3 414.0h0M298.0 447.7h0M252.3 465.7h0M312.7 467.3h0M285.3 492.3h0M289.0 497.7h0M274.7 509.3h0M255.3 513.7h0M292.3 524.0h0M297.7 548.7h0M314.0 558.3h0M311.0 561.7h0M398.0 332.7h0M411.3 331.3h0M423.0 336.0h0M397.0 340.7h0M408.7 346.7h0M418.0 347.3h0M420.0 354.0h0M389.3 361.3h0M392.7 360.0h0M400.0 361.3h0M411.3 361.3h0M408.0 366.7h0M416.0 370.0h0M421.3 370.0h0M354.0 374.0h0M398.7 378.7h0M396.0 382.7h0M413.3 378.0h0M418.7 380.7h0M401.3 386.0h0M416.0 387.3h0M405.3 392.7h0M398.7 396.7h0M392.0 400.0h0M413.3 394.0h0M418.7 396.7h0M410.7 402.0h0M391.3 406.7h0M416.0 406.0h0M405.3 407.3h0M398.0 416.7h0M413.3 414.0h0M418.7 416.7h0M390.0 424.0h0M408.0 422.0h0M416.0 424.7h0M350.7 423.3h0M400.0 431.3h0M393.3 434.0h0M410.7 431.3h0M418.7 434.0h0M379.3 434.0h0M376.7 439.3h0M367.3 442.7h0M400.0 440.7h0M408.0 439.3h0M416.0 442.0h0M351.3 448.0h0M402.7 447.3h0M413.3 447.3h0M421.3 444.7h0M357.7 460.0h0M377.3 459.3h0M384.0 458.0h0M340.0 472.0h0M392.0 468.7h0M399.3 465.3h0M372.7 474.0h0M376.7 474.7h0M369.3 482.0h0M342.0 490.0h0M352.0 492.0h0M382.0 488.7h0M389.3 486.0h0M398.0 487.3h0M330.7 503.3h0M362.7 504.7h0M371.3 506.0h0M382.0 502.0h0M395.3 505.3h0M396.0 495.3h0M327.3 518.0h0M346.7 516.7h0M351.3 518.7h0M340.7 523.3h0M364.0 514.0h0M364.7 522.0h0M381.3 511.3h0M382.0 519.3h0M398.7 516.7h0M340.0 532.7h0M368.0 529.3h0M385.3 528.7h0M392.7 530.0h0M346.0 543.3h0M362.7 548.0h0M373.3 545.3h0M381.3 551.3h0M389.3 543.3h0M342.0 561.3h0M354.0 560.0h0M366.7 561.3h0M381.3 559.3h0M389.3 556.7h0M394.7 562.0h0" stroke="#0000CD" stroke-width="12.4" stroke-linecap="round" fill="none"/>
<path d="M584.5 510.7h0M593.0 517.3h0M569.9 543.4h0M623.4 503.1h0M603.0 532.6h0M588.6 453.5h0M625.3 502.7h0M594.7 539.3h0M597.9 554.3h0M626.1 460.9h0M577.8 474.2h0M631.8 498.6h0M609.7 483.6h0M591.8 515.2h0M607.0 550.8h0M627.8 513.5h0M623.1 513.9h0M587.5 457.1h0M574.8 539.3h0M595.7 466.8h0M588.1 535.7h0M625.7 454.9h0M615.7 486.9h0M601.9 561.3h0M589.1 458.6h0M608.0 453.5h0M581.8 495.5h0M571.8 546.8h0M589.4 556.9h0M598.9 508.0h0M597.0 530.3h0M604.6 451.3h0M596.0 514.7h0M570.3 518.7h0M609.8 502.0h0M613.2 489.3h0M570.4 456.8h0M612.9 557.4h0M585.3 500.9h0M607.5 485.7h0M593.0 516.4h0M619.2 453.0h0M606.0 532.0h0M621.2 476.6h0M581.2 498.5h0M623.2 498.9h0M624.6 468.9h0M590.9 522.5h0M626.5 500.3h0M583.6 463.5h0M580.9 481.1h0M577.4 482.6h0M620.6 480.2h0M628.8 467.4h0M569.3 555.2h0M597.2 555.9h0M629.3 474.8h0M612.1 507.9h0M583.8 457.6h0M607.3 482.0h0M621.7 455.0h0M629.1 550.0h0M627.5 514.3h0M569.9 533.1h0M580.2 483.4h0M612.1 508.5h0M595.9 554.7h0M608.8 488.1h0M585.4 546.1h0M600.0 537.2h0M591.9 472.0h0M603.8 541.1h0M580.1 538.3h0M622.5 450.8h0M572.2 480.3h0M586.5 508.8h0M596.5 502.7h0M619.5 450.2h0M572.6 464.1h0M577.1 457.6h0M632.4 545.3h0M574.6 506.0h0M591.8 522.1h0M607.1 490.2h0M577.0 511.9h0M615.5 492.4h0M574.2 469.9h0M593.3 517.4h0M601.2 528.4h0M596.3 527.4h0M599.0 477.3h0M603.8 527.5h0M573.7 497.4h0M596.7 548.1h0M586.0 501.8h0M577.0 540.7h0M575.7 515.5h0M569.3 466.0h0M619.3 454.9h0M575.0 461.1h0M626.2 470.0h0M570.5 543.8h0M576.9 544.1h0M620.9 454.0h0M618.9 507.0h0M617.7 554.2h0M573.0 486.2h0M605.7 542.3h0M584.7 470.0h0M585.2 518.7h0M618.0 493.9h0M574.4 505.8h0M613.9 534.3h0M612.8 507.7h0M600.4 521.7h0M627.3 466.7h0M575.2 533.4h0M597.8 530.2h0M581.1 479.8h0M581.9 515.3h0M613.9 556.3h0M588.2 528.6h0M595.9 545.2h0M583.1 452.6h0M580.2 490.2h0M589.9 536.3h0M578.3 560.5h0M600.2 516.8h0M599.4 543.1h0M622.4 512.1h0M600.3 530.4h0M616.7 557.1h0M599.4 475.6h0M584.3 530.0h0M612.9 556.9h0M624.5 477.0h0M581.3 478.8h0M581.2 528.6h0M624.8 550.3h0M585.6 546.5h0M575.0 543.0h0M569.4 487.3h0M597.4 504.2h0M582.7 515.2h0M586.9 524.2h0M576.3 548.9h0M628.1 460.8h0M619.2 534.4h0M588.2 525.4h0M586.3 534.1h0M580.6 549.2h0M629.6 465.8h0M590.5 530.3h0M607.8 511.9h0M611.1 501.0h0M589.3 469.7h0M573.5 529.8h0M618.0 510.6h0M617.1 490.1h0M625.7 454.7h0M601.8 477.6h0M604.2 536.0h0M591.9 544.4h0M576.3 480.2h0M575.5 462.6h0M619.6 531.1h0M581.0 471.1h0M596.1 532.9h0M622.0 533.5h0M594.9 471.6h0M603.3 513.4h0M619.8 453.4h0M604.9 515.0h0M610.2 558.9h0M613.6 483.4h0M624.9 504.0h0M608.1 531.0h0M569.2 535.9h0M612.0 504.8h0M603.0 501.3h0M581.6 509.0h0M571.4 505.8h0M611.0 499.5h0M605.8 556.9h0M627.0 465.1h0M572.3 490.1h0M584.2 458.7h0M604.0 553.7h0M590.0 547.1h0M624.8 517.0h0M617.1 488.3h0M621.4 553.9h0M618.2 504.1h0M576.1 454.8h0M574.1 472.3h0M579.5 505.4h0M614.5 509.9h0M596.4 522.4h0M588.8 501.8h0M618.2 494.8h0M580.7 550.3h0M615.8 490.9h0M593.1 509.0h0M569.2 473.3h0M619.9 466.0h0M598.9 471.8h0M582.6 469.0h0M595.2 468.8h0M570.8 462.3h0M579.9 504.7h0M572.9 452.5h0M614.7 455.7h0M570.7 557.7h0M583.2 460.5h0M599.8 468.4h0M609.5 488.6h0M577.1 455.8h0M616.3 480.7h0M620.2 501.9h0M591.4 460.4h0M607.5 450.4h0M571.0 460.1h0M580.1 454.1h0M572.5 523.0h0M627.5 472.4h0M621.2 552.3h0M630.1 453.8h0M588.8 517.7h0M630.5 459.8h0M588.1 544.8h0M576.5 493.5h0M590.7 525.8h0M629.4 469.5h0M617.1 531.8h0M623.3 511.7h0M596.0 475.6h0M619.7 503.6h0M586.5 468.9h0M615.2 493.1h0M600.7 467.2h0M615.2 452.6h0M599.4 534.6h0M584.4 544.1h0M625.7 500.2h0M573.7 494.5h0M631.1 461.7h0M574.3 522.4h0M584.6 455.4h0M578.9 521.9h0M607.1 451.3h0M583.9 557.8h0M583.3 512.7h0M596.3 537.1h0M608.3 537.9h0M580.5 458.8h0M622.7 462.5h0M570.6 557.8h0M582.0 549.6h0M574.6 501.9h0M583.5 542.5h0M591.5 517.2h0M598.0 462.4h0M623.3 516.3h0M622.0 473.0h0M604.0 501.8h0M591.5 504.0h0M573.6 511.6h0M616.8 497.1h0M597.0 459.4h0M583.2 468.4h0M608.8 553.8h0M603.8 496.7h0M630.6 550.7h0M630.7 504.0h0M619.3 495.4h0M588.0 554.2h0M581.0 460.7h0M616.0 482.8h0M602.8 521.3h0M571.6 533.1h0M591.4 532.7h0M617.5 482.0h0M575.7 483.4h0M595.7 458.6h0M579.0 535.0h0M632.7 547.7h0M593.2 468.0h0M589.3 501.6h0M603.2 510.4h0M592.4 545.1h0M587.5 501.6h0M626.6 540.0h0M621.4 451.1h0M577.5 509.2h0M572.3 472.7h0M619.0 501.9h0M581.0 451.5h0M572.3 510.9h0M575.1 484.7h0M585.1 539.4h0M571.9 497.9h0M628.3 540.2h0M585.1 465.1h0M618.3 538.0h0M602.1 542.7h0M604.9 481.2h0M580.0 451.9h0M627.9 502.1h0M612.3 553.5h0M595.9 507.8h0M580.1 470.4h0M604.6 495.5h0M591.9 500.7h0M621.2 500.5h0M631.4 467.3h0M589.5 508.2h0M595.8 544.9h0M622.8 553.8h0M608.8 453.4h0M606.3 511.3h0M600.7 481.2h0M575.7 524.6h0M593.1 507.4h0M628.8 470.2h0M593.9 542.3h0M587.3 464.7h0M585.3 559.3h0M574.2 475.6h0M582.0 458.9h0M603.2 532.8h0M623.5 520.4h0M597.6 345.6h0M578.9 445.9h0M571.4 373.1h0M585.9 373.1h0M588.1 349.9h0M577.3 445.5h0M574.0 440.1h0M575.2 449.2h0M592.6 412.9h0M574.0 350.7h0M595.6 363.5h0M575.6 431.4h0M599.6 350.1h0M602.6 401.1h0M582.4 356.2h0M582.6 448.7h0M578.8 358.8h0M574.1 358.3h0M581.3 441.1h0M571.7 365.2h0M601.9 449.7h0M603.3 370.8h0M581.4 444.8h0M586.0 418.9h0M580.0 347.2h0M581.1 423.6h0M596.4 404.7h0M585.2 401.5h0M584.5 401.1h0M598.2 366.0h0M589.8 442.9h0M598.7 363.8h0M602.7 433.2h0M574.9 372.9h0M576.1 350.6h0M603.2 388.0h0M599.5 357.0h0M569.5 436.3h0M596.8 449.1h0M593.0 400.1h0M595.8 354.7h0M587.9 391.3h0M574.1 408.0h0M580.3 398.2h0M582.1 378.4h0M581.5 408.1h0M603.3 443.3h0M599.2 432.7h0M579.0 447.6h0M578.4 357.9h0M586.5 421.9h0M580.9 412.8h0M578.9 446.5h0M584.9 395.2h0M587.6 436.9h0M585.3 78.7h0M587.3 85.7h0M661.3 107.7h0M662.0 117.0h0M654.3 134.0h0M630.7 165.0h0M595.7 177.0h0M667.0 175.7h0M645.7 191.3h0M663.3 191.7h0M760.3 196.0h0M615.0 230.3h0M579.7 251.0h0M598.3 247.0h0M601.0 250.0h0M607.3 252.7h0M623.7 255.7h0M638.7 251.0h0M626.0 265.0h0M588.3 270.3h0M592.0 271.0h0M603.3 277.3h0M640.7 270.7h0M658.7 270.7h0M659.0 281.7h0M617.3 279.3h0M621.7 282.3h0M630.7 286.0h0M627.0 290.7h0M689.3 276.7h0M686.7 285.0h0M708.3 273.0h0M707.0 298.0h0M712.7 308.3h0M595.0 297.3h0M596.0 306.0h0M606.0 308.3h0M582.3 309.3h0M581.0 315.7h0M585.7 317.3h0M628.0 306.7h0M623.7 311.7h0M641.3 314.0h0M639.0 316.3h0M594.3 321.0h0M620.7 320.7h0M616.7 325.0h0M580.0 326.7h0M570.0 327.7h0M686.7 337.3h0M693.0 333.7h0M719.3 336.0h0M683.3 363.3h0M690.0 362.7h0M682.3 387.7h0M713.3 405.3h0M680.0 418.7h0M754.0 434.3h0M695.3 447.7h0M675.0 457.3h0M745.3 458.3h0M686.0 496.0h0M680.0 506.7h0M680.7 540.7h0M695.0 555.0h0M861.5 397.7h0M829.4 410.6h0M811.1 419.3h0M570.3 330.0h0M580.3 330.0h0M584.6 339.3h0M605.0 332.0h0M612.3 335.3h0M621.7 334.0h0M631.0 338.7h0M613.7 342.7h0M624.3 343.3h0M616.3 350.0h0M629.7 351.3h0M620.3 356.7h0M647.7 350.0h0M643.0 354.7h0M639.0 362.0h0M637.7 370.0h0M635.0 376.0h0M570.3 350.7h0M580.3 351.3h0M591.0 352.7h0M600.3 348.0h0M599.0 356.7h0M607.7 361.3h0M588.3 360.7h0M573.7 362.0h0M581.7 367.3h0M593.7 368.7h0M601.0 372.7h0M619.0 374.7h0M575.0 372.7h0M573.0 380.7h0M588.3 376.7h0M599.0 380.7h0M570.3 388.7h0M579.0 386.0h0M591.0 386.0h0M599.0 388.7h0M609.7 392.0h0M621.7 392.7h0M617.7 399.3h0M608.3 400.7h0M577.0 394.0h0M587.0 396.7h0M595.0 396.7h0M576.3 403.3h0M585.7 404.7h0M595.0 406.0h0M604.3 407.3h0M615.0 408.7h0M624.3 411.3h0M637.7 392.7h0M643.0 400.7h0M648.3 392.7h0M653.7 386.0h0M661.0 388.7h0M657.7 394.0h0M649.7 412.7h0M635.7 416.7h0M641.7 424.7h0M632.3 423.3h0M575.0 416.7h0M584.3 415.3h0M593.7 416.7h0M603.0 416.7h0M612.3 418.0h0M621.7 420.7h0M573.7 426.0h0M583.0 423.3h0M592.3 426.0h0M601.7 423.3h0M611.0 427.3h0M620.3 430.0h0M627.0 432.7h0M572.3 435.3h0M589.7 435.3h0M605.7 434.0h0M615.0 436.7h0M640.3 434.0h0M651.7 435.3h0M668.3 436.7h0M570.3 444.7h0M579.0 443.3h0M588.3 444.7h0M597.7 446.0h0M608.3 443.3h0M617.7 447.3h0M625.7 446.0h0M640.3 443.3h0M665.7 446.0h0M655.0 458.0h0M673.7 456.7h0M665.7 450.0h0M640.3 474.0h0M652.3 480.0h0M651.7 493.3h0M633.7 499.3h0M633.7 490.0h0M632.3 517.3h0M644.3 526.7h0M653.7 528.7h0M660.3 529.3h0M659.0 534.0h0M627.7 531.3h0M647.7 542.0h0M655.0 548.7h0M635.0 547.3h0M660.3 558.7h0M669.7 558.7h0" stroke="#CD3333" stroke-width="12.4" stroke-linecap="round" fill="none"/>
<path d="M425.5 348.0h0M426.9 361.6h0M426.8 373.1h0M425.2 382.4h0M427.9 392.0h0M427.2 401.9h0M425.4 449.6h0M426.9 484.5h0M425.7 494.0h0M426.1 507.7h0M426.0 520.8h0" stroke="#999999" stroke-width="12.4" stroke-linecap="round" fill="none"/>
<g stroke="#505050" stroke-width="2.15" stroke-dasharray="9.07 9.07" fill="none">
<line x1="424.2" y1="802.5" x2="424.2" y2="45"/>
<line x1="568.3" y1="802.5" x2="568.3" y2="45"/>
<line x1="95.1" y1="562.1" x2="898" y2="562.1"/>
</g>
</g>
<!-- frame -->
<rect x="95.4" y="45.6" width="802.0" height="757.3" fill="none" stroke="#000" stroke-width="2.3"/>
<!-- ticks -->
<g stroke="#000" stroke-width="2.1" fill="none">
<line x1="87.9" y1="131.85" x2="95" y2="131.85"/>
<line x1="87.9" y1="291.35" x2="95" y2="291.35"/>
<line x1="87.9" y1="450.85" x2="95" y2="450.85"/>
<line x1="87.9" y1="610.35" x2="95" y2="610.35"/>
<line x1="87.9" y1="769.85" x2="95" y2="769.85"/>
<line x1="221.7" y1="803.5" x2="221.7" y2="809.9"/>
<line x1="359" y1="803.5" x2="359" y2="809.9"/>
<line x1="496.3" y1="803.5" x2="496.3" y2="809.9"/>
<line x1="633.6" y1="803.5" x2="633.6" y2="809.9"/>
<line x1="770.9" y1="803.5" x2="770.9" y2="809.9"/>
</g>
<circle cx="206" cy="14.3" r="12.8" fill="#0000CD"/>
<circle cx="431.8" cy="14.3" r="12.8" fill="#999999"/>
<circle cx="661.7" cy="14.2" r="12.8" fill="#CD3333"/>
<text transform="translate(236.14,25.80) scale(1.0000,1.0350)" font-size="32.20">Down (282)</text>
<text transform="translate(461.64,25.80) scale(1.0000,1.0350)" font-size="32.20">Not (</text><path transform="translate(531.42,25.80) scale(32.2000,-33.3270)" d="M0.373 0L0.285 0L0.285 0.49L0.123 0.49L0.123 0.551C0.21 0.553 0.285 0.582 0.312 0.688L0.373 0.688Z" fill="#000"/><text transform="translate(549.33,25.80) scale(1.0000,1.0350)" font-size="32.20">3406)</text>
<text transform="translate(691.20,25.80) scale(1.0000,1.0350)" font-size="32.20">Up (467)</text>
<text transform="translate(62.01,145.95) scale(1.0000,1.0600)" font-size="37.90">4</text>
<text transform="translate(62.58,305.45) scale(1.0000,1.0600)" font-size="37.90">3</text>
<text transform="translate(62.86,464.95) scale(1.0000,1.0600)" font-size="37.90">2</text>
<path transform="translate(61.46,624.45) scale(37.9000,-40.1740)" d="M0.373 0L0.285 0L0.285 0.49L0.123 0.49L0.123 0.551C0.21 0.553 0.285 0.582 0.312 0.688L0.373 0.688Z" fill="#000"/>
<text transform="translate(62.39,783.95) scale(1.0000,1.0600)" font-size="37.90">0</text>
<text transform="translate(188.77,843.20) scale(1.0000,1.0550)" font-size="38.30">-</text><path transform="translate(201.52,843.20) scale(38.3000,-40.4065)" d="M0.373 0L0.285 0L0.285 0.49L0.123 0.49L0.123 0.551C0.21 0.553 0.285 0.582 0.312 0.688L0.373 0.688Z" fill="#000"/><text transform="translate(222.83,843.20) scale(1.0000,1.0550)" font-size="38.30">.0</text>
<text transform="translate(326.12,843.20) scale(1.0000,1.0550)" font-size="38.30">-0.5</text>
<text transform="translate(469.83,843.20) scale(1.0000,1.0550)" font-size="38.30">0.0</text>
<text transform="translate(607.18,843.20) scale(1.0000,1.0550)" font-size="38.30">0.5</text>
<path transform="translate(742.84,843.20) scale(38.3000,-40.4065)" d="M0.373 0L0.285 0L0.285 0.49L0.123 0.49L0.123 0.551C0.21 0.553 0.285 0.582 0.312 0.688L0.373 0.688Z" fill="#000"/><text transform="translate(764.15,843.20) scale(1.0000,1.0550)" font-size="38.30">.0</text>
<text transform="translate(217.82,892.90) scale(1.0000,1.0350)" font-size="42.60">log</text>
<text transform="translate(273.71,900.00) scale(1.0000,1.0350)" font-size="29.80">2</text>
<text transform="translate(290.79,892.90) scale(1.0000,1.0350)" font-size="42.60">FC</text>
<path d="M373.30 857.10 C355.30 868.10 355.30 891.10 373.30 902.00 C361.17 894.10 361.17 865.10 373.30 857.10 Z" fill="#000" stroke="#000" stroke-width="0.5" stroke-linejoin="round"/>
<text transform="translate(375.99,892.90) scale(1.0000,1.0350)" font-size="42.60">AMI_HF</text>
<line x1="536.7" y1="898.7" x2="548.6" y2="856.4" stroke="#000" stroke-width="1.9"/>
<text transform="translate(554.49,892.90) scale(1.0000,1.0350)" font-size="42.60">AMI_noHF</text>
<path d="M759.10 857.10 C777.10 868.10 777.10 891.10 759.10 902.00 C771.23 894.10 771.23 865.10 759.10 857.10 Z" fill="#000" stroke="#000" stroke-width="0.5" stroke-linejoin="round"/>
<g transform="translate(37.70,572.00) rotate(-90)"><rect x="1.2" y="-12.7" width="22.5" height="2.5" fill="#000"/>
<text transform="translate(30.24,0.00) scale(1.0000,1.0350)" font-size="42.30">log</text>
<path transform="translate(85.53,7.60) scale(29.8000,-30.8430)" d="M0.373 0L0.285 0L0.285 0.49L0.123 0.49L0.123 0.551C0.21 0.553 0.285 0.582 0.312 0.688L0.373 0.688Z" fill="#000"/><text transform="translate(102.11,7.60) scale(1.0000,1.0350)" font-size="29.80">0</text>
<path d="M136.30 -36.40 C118.97 -25.28 118.97 -2.02 136.30 9.00 C125.63 1.01 125.63 -28.31 136.30 -36.40 Z" fill="#000" stroke="#000" stroke-width="0.5" stroke-linejoin="round"/>
<text transform="translate(137.55,0.00) scale(1.0000,1.0350)" font-size="42.30">p-value</text>
<path d="M277.60 -36.40 C294.93 -25.28 294.93 -2.02 277.60 9.00 C288.27 1.01 288.27 -28.31 277.60 -36.40 Z" fill="#000" stroke="#000" stroke-width="0.5" stroke-linejoin="round"/></g>
</svg>
</body>
</html>
